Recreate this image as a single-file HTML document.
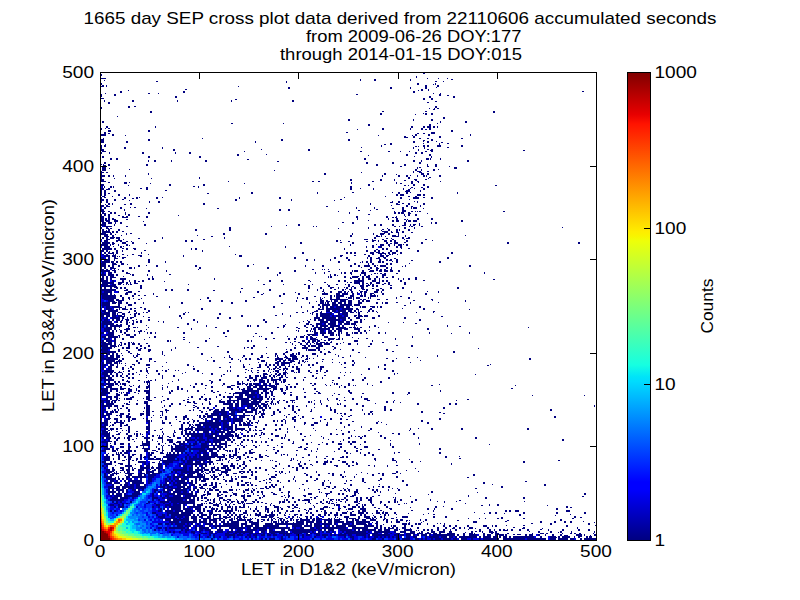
<!DOCTYPE html>
<html><head><meta charset="utf-8"><style>
html,body{margin:0;padding:0;background:#fff;}
body{width:800px;height:600px;position:relative;overflow:hidden;}
svg text{font-family:"Liberation Sans",sans-serif;fill:#000;}
</style></head><body>
<svg width="800" height="600" style="position:absolute;left:0;top:0">
<defs>
<linearGradient id="jet" x1="0" y1="1" x2="0" y2="0">
<stop offset="0" stop-color="#000080"/>
<stop offset="0.11" stop-color="#0000ff"/>
<stop offset="0.125" stop-color="#0000ff"/>
<stop offset="0.34" stop-color="#00dcfe"/>
<stop offset="0.35" stop-color="#00e4f8"/>
<stop offset="0.375" stop-color="#16ffe1"/>
<stop offset="0.64" stop-color="#eeff09"/>
<stop offset="0.65" stop-color="#f8f500"/>
<stop offset="0.66" stop-color="#feed00"/>
<stop offset="0.89" stop-color="#ff1300"/>
<stop offset="0.91" stop-color="#e80000"/>
<stop offset="1" stop-color="#800000"/>
</linearGradient>
</defs>
<g fill="none" stroke-width="1"><path stroke="#000080" d="M423 72.5h2M423 73.5h2M100 74.5h2M100 75.5h2M416 76.5h1M416 77.5h1M100 78.5h6m321 0h1m10 0h1m8 0h1M360 79.5h1m13 0h2m34 0h1m40 0h2M104 80.5h1m255 0h1m13 0h2m34 0h1M156 81.5h2m128 0h1m148 0h2m6 0h1M286 82.5h1M100 83.5h2m315 0h2m16 0h1M100 84.5h2m315 0h2m14 0h1m1 0h1M102 85.5h2m2 0h1m318 0h2m10 0h2M100 86.5h4m2 0h1m131 0h1m186 0h2m10 0h2M288 87.5h2m100 0h2m18 0h1m14 0h2m9 0h1M288 88.5h2m100 0h2m18 0h1m14 0h2M185 89.5h2m234 0h2m5 0h1M128 90.5h1m289 0h1m2 0h2m5 0h1M120 91.5h2m61 0h2m228 0h2m167 0h2M120 92.5h2m61 0h2m228 0h2M105 93.5h1m42 0h2m8 0h1m274 0h1m6 0h1M100 94.5h2m12 0h2m240 0h2m81 0h2M100 95.5h2m12 0h2m323 0h2m6 0h2M100 96.5h2m73 0h2m252 0h2m22 0h2M175 97.5h2m252 0h2m22 0h2M100 98.5h4m319 0h2m6 0h2M235 99.5h2m186 0h2m6 0h2M104 100.5h1m27 0h2m43 0h1m53 0h1m60 0h2M104 101.5h1m27 0h2m43 0h1m53 0h1m60 0h2m141 0h2M108 102.5h2m317 0h2M108 103.5h2M128 106.5h2m4 0h2m299 0h2M101 107.5h1m26 0h2m305 0h2M100 108.5h2m327 0h1m4 0h1m2 0h2M433 109.5h2M150 111.5h2m230 0h2m41 0h2m66 0h2M150 112.5h2m341 0h2M380 113.5h2m41 0h1m1 0h2m4 0h2M380 114.5h2m33 0h1m9 0h2m4 0h2M117 116.5h1M443 117.5h2M443 118.5h2M348 119.5h2m63 0h1m17 0h2M348 120.5h2m63 0h1m17 0h2M102 121.5h2m336 0h1m24 0h2M102 122.5h2m336 0h1m24 0h2M231 123.5h2m50 0h1m153 0h1M368 124.5h2m59 0h2M368 125.5h2m59 0h2M106 126.5h2m47 0h1m255 0h2m10 0h2m2 0h4m2 0h2m2 0h1M106 127.5h2m47 0h1m255 0h2m10 0h2m2 0h4m2 0h2m2 0h1M100 128.5h2m3 0h1m2 0h2m272 0h2m26 0h1m10 0h2m6 0h2M100 129.5h2m255 0h1m24 0h2m26 0h1m10 0h2m2 0h2m2 0h2M108 130.5h3m37 0h2m301 0h2M108 131.5h3m37 0h2m301 0h2M104 132.5h2m240 0h2m83 0h4M104 133.5h2m2 0h2m307 0h2m4 0h2m6 0h4M100 134.5h6m6 0h2m301 0h2m11 0h2m40 0h1M100 135.5h6m6 0h2m11 0h1m252 0h1m33 0h1m2 0h2m11 0h2m40 0h1M404 136.5h2m7 0h2m24 0h2M404 137.5h4m5 0h2m24 0h2M103 138.5h1m98 0h1m216 0h2m6 0h2m32 0h2M100 139.5h4m44 0h2m131 0h2m65 0h2m81 0h2M100 140.5h4m44 0h2m131 0h2m65 0h2m73 0h2m6 0h2M100 141.5h4m22 0h2m127 0h1m157 0h2m8 0h1m3 0h2m7 0h1M100 142.5h4m22 0h2m127 0h1m157 0h2m12 0h2m12 0h2M390 143.5h2m31 0h1m15 0h1m7 0h2M105 144.5h1m278 0h2m4 0h2m47 0h1M100 145.5h2m2 0h2m275 0h1m41 0h2m2 0h2m8 0h4m20 0h2M100 146.5h2m2 0h2m275 0h1m33 0h2m1 0h1m4 0h2m2 0h2m8 0h4m20 0h2M100 147.5h2m22 0h2m36 0h1m198 0h1m51 0h1m10 0h1m22 0h2M100 148.5h2m22 0h2m36 0h1m250 0h1m10 0h1M100 149.5h4m69 0h2m86 0h1m46 0h2m108 0h1m8 0h2m2 0h2M100 150.5h4m69 0h2m133 0h2m108 0h1m11 0h3m90 0h2M102 151.5h4m138 0h1m115 0h2m26 0h2m10 0h1m8 0h1m15 0h2m4 0h2M100 152.5h2m7 0h1m32 0h2m31 0h1m13 0h2m224 0h2m4 0h2M100 153.5h2m7 0h1m32 0h2m31 0h1m13 0h2m224 0h2m4 0h2M100 154.5h1m136 0h2m27 0h1m139 0h2m21 0h2M100 155.5h1m136 0h2m129 0h1m37 0h2m21 0h2M102 156.5h2m44 0h2m49 0h2m213 0h1m16 0h1M102 157.5h2m44 0h2m49 0h2m230 0h1M110 158.5h2m4 0h2m246 0h2m60 0h3m1 0h1m9 0h1M110 159.5h2m4 0h2m129 0h2m115 0h2m60 0h3m1 0h1m9 0h1M148 160.5h1m5 0h2m15 0h1m33 0h2m206 0h2m6 0h1m45 0h2M148 161.5h1m5 0h2m15 0h1m33 0h2m70 0h2m134 0h2m6 0h1m45 0h2M104 162.5h2m260 0h2m24 0h2m25 0h2M104 163.5h2m260 0h2m24 0h2m25 0h2M101 164.5h1m1 0h1m4 0h2m36 0h2m228 0h2m26 0h2m21 0h1m7 0h2M103 165.5h3m2 0h2m36 0h2m228 0h2m26 0h2m21 0h1m7 0h2M104 166.5h2m294 0h2m25 0h2m6 0h2m12 0h1M102 167.5h4m311 0h1m1 0h2m33 0h3M102 168.5h4m3 0h1m307 0h1m36 0h3M100 169.5h1m1 0h4m23 0h1m285 0h2m4 0h1m11 0h2m3 0h1M102 170.5h4m168 0h1m140 0h2m4 0h1m11 0h2M100 171.5h2m311 0h1m3 0h4m6 0h2M100 172.5h4m2 0h2m253 0h1m51 0h1m5 0h3M100 173.5h2m46 0h1m175 0h2m58 0h2m35 0h3m3 0h2M100 174.5h2m46 0h1m175 0h2m58 0h2m10 0h1m24 0h3m3 0h2M100 175.5h5m3 0h2m3 0h1m11 0h1m256 0h1m15 0h2m6 0h2m2 0h1m6 0h1m5 0h2m1 0h1m12 0h2M100 176.5h5m3 0h2m3 0h1m11 0h1m256 0h1m15 0h2m6 0h2m9 0h1m5 0h2m1 0h1m12 0h2M100 177.5h2m97 0h1m208 0h2m19 0h2M100 178.5h2m12 0h1m36 0h1m47 0h1m208 0h2m18 0h1M100 179.5h4m246 0h2m28 0h2m12 0h1m19 0h3m8 0h2M100 180.5h4m246 0h2m28 0h2m12 0h1m9 0h2m9 0h2M100 181.5h6m122 0h1m83 0h2m4 0h2m52 0h2m37 0h2m4 0h2m21 0h1M108 182.5h2m14 0h3m2 0h1m221 0h1m44 0h1m14 0h2m5 0h1M124 183.5h3m23 0h1m93 0h1m106 0h1m44 0h1m3 0h2m9 0h2M100 184.5h4m65 0h2m32 0h2m163 0h2m43 0h2m8 0h2M100 185.5h4m24 0h1m40 0h2m32 0h2m163 0h2m34 0h2m2 0h1m4 0h2m8 0h2m70 0h2M102 186.5h1m1 0h1m5 0h2m1 0h1m79 0h2m3 0h1m151 0h2m75 0h2M102 187.5h1m1 0h1m5 0h2m1 0h1m32 0h2m50 0h1m151 0h2m59 0h2m8 0h2m4 0h2M100 188.5h4m4 0h2m30 0h2m4 0h2m202 0h2m8 0h1m12 0h1m29 0h1m6 0h1m3 0h1m8 0h2M100 189.5h4m2 0h4m36 0h2m202 0h2m21 0h1m29 0h1m4 0h2m13 0h2M100 190.5h2m2 0h2m8 0h2m49 0h2m239 0h4m10 0h1M100 191.5h2m2 0h2m8 0h2m289 0h5m10 0h1M100 192.5h2m2 0h2m145 0h2m64 0h1m34 0h2m38 0h1m5 0h2m6 0h2m2 0h1m46 0h1M100 193.5h2m2 0h2m2 0h2m97 0h2m42 0h2m64 0h1m80 0h2m6 0h2m49 0h1M100 194.5h2m2 0h2m12 0h2m9 0h1m266 0h2m2 0h4m13 0h4m2 0h2M100 195.5h2m2 0h2m12 0h2m9 0h1m266 0h2m2 0h4m13 0h4m2 0h2M102 196.5h3m7 0h1m272 0h1m22 0h2m5 0h2M100 197.5h2m2 0h2m18 0h2m10 0h2m1 0h1m16 0h2m4 0h1m76 0h1m39 0h2m63 0h1m55 0h2m11 0h6m4 0h2m6 0h2M100 198.5h2m22 0h2m6 0h2m2 0h2m18 0h2m81 0h1m39 0h2m119 0h2m11 0h6m12 0h2M100 199.5h4m2 0h2m6 0h2m6 0h2m111 0h2m54 0h1m48 0h2m67 0h1M100 200.5h4m2 0h2m6 0h2m13 0h1m105 0h2m54 0h1m42 0h1M100 201.5h2m4 0h2m41 0h1m8 0h2m232 0h1m5 0h2m14 0h1m2 0h1M100 202.5h2m4 0h2m41 0h1m8 0h2m230 0h3m5 0h2m17 0h1M108 203.5h2m2 0h1m17 0h2m71 0h2m165 0h1m25 0h2m4 0h2m4 0h2m13 0h2M105 204.5h1m2 0h2m2 0h1m11 0h2m4 0h2m71 0h2m165 0h1m25 0h4m8 0h2m13 0h2M100 205.5h4m2 0h2m283 0h1m14 0h2m12 0h1M100 206.5h4m2 0h4m216 0h2m78 0h2m3 0h2m7 0h1M104 207.5h2m14 0h2m8 0h1m3 0h2m220 0h1m17 0h1m27 0h2m7 0h1m1 0h4M104 208.5h2m14 0h2m24 0h1m70 0h2m137 0h1m17 0h1m17 0h2m8 0h2m7 0h1m1 0h4m6 0h1M100 209.5h4m20 0h1m154 0h2m7 0h2m86 0h2m24 0h2M100 210.5h4m20 0h1m154 0h2m7 0h2m68 0h2m10 0h1m31 0h4M100 211.5h5m3 0h2m228 0h1m55 0h1m7 0h4m5 0h2m2 0h1m1 0h1m1 0h2m82 0h2M102 212.5h2m6 0h2m2 0h2m9 0h1m22 0h2m199 0h1m44 0h2m2 0h2m1 0h3m4 0h2M102 213.5h4m4 0h2m2 0h2m9 0h1m22 0h2m199 0h1m44 0h2m2 0h2m1 0h3m4 0h3m16 0h1M100 214.5h2m2 0h2m2 0h2m15 0h1m2 0h2m238 0h2m34 0h1m3 0h2m5 0h2M100 215.5h2m2 0h2m2 0h2m8 0h2m8 0h2m48 0h1m225 0h1m3 0h2m5 0h2M100 216.5h4m4 0h2m12 0h2m2 0h2m10 0h2m6 0h2m208 0h2m28 0h2m8 0h1m8 0h1M100 217.5h4m4 0h2m12 0h6m18 0h2m208 0h2m28 0h2m4 0h2m1 0h2M100 218.5h4m1 0h2m1 0h2m2 0h2m243 0h1m30 0h1m7 0h2m19 0h2m12 0h2M100 219.5h4m1 0h2m1 0h2m2 0h4m10 0h2m229 0h1m30 0h1m7 0h2m6 0h2m1 0h1m9 0h2m12 0h2M100 220.5h4m1 0h5m4 0h4m250 0h1m23 0h2m2 0h3m7 0h1m1 0h3m2 0h4m44 0h2M100 221.5h4m2 0h4m4 0h4m25 0h1m248 0h2m2 0h3m7 0h1m1 0h3m2 0h4m44 0h2M102 222.5h4m2 0h4m3 0h1m4 0h2m220 0h2m8 0h2m50 0h2m25 0h1m3 0h2M102 223.5h4m2 0h4m3 0h1m4 0h2m230 0h2m50 0h2m13 0h1m11 0h1m3 0h2M100 224.5h6m8 0h1m29 0h2m152 0h2m74 0h2m4 0h2m10 0h2m10 0h2m4 0h1m2 0h3m3 0h1M100 225.5h6m8 0h1m29 0h2m140 0h1m11 0h2m74 0h2m4 0h2m10 0h2m8 0h4m4 0h1m2 0h2m4 0h1M104 226.5h8m14 0h2m143 0h1m41 0h1m2 0h1m77 0h2m3 0h1m9 0h1m1 0h2m8 0h2M100 227.5h2m4 0h2m121 0h2m137 0h1m35 0h2m8 0h1m147 0h1M100 228.5h2m4 0h3m1 0h2m117 0h2m107 0h1m29 0h1m18 0h1m16 0h2m8 0h1M102 229.5h2m4 0h2m8 0h2m75 0h2m32 0h2m151 0h2m4 0h2m6 0h2m1 0h1m8 0h2M102 230.5h2m2 0h1m1 0h2m8 0h2m75 0h2m32 0h2m150 0h1m6 0h2m6 0h2m1 0h1m8 0h2M102 231.5h8m2 0h2m2 0h2m4 0h2m258 0h6m3 0h1m4 0h2m4 0h2M102 232.5h9m1 0h2m2 0h2m266 0h4m3 0h2m3 0h3m3 0h2m7 0h2M100 233.5h6m4 0h2m14 0h1m3 0h2m91 0h2m40 0h2m85 0h1m20 0h1m6 0h5m3 0h2m8 0h1M100 234.5h8m2 0h2m3 0h1m10 0h1m96 0h2m40 0h2m85 0h1m20 0h1m6 0h4m4 0h2m8 0h1M104 235.5h4m4 0h2m7 0h1m75 0h1m152 0h2m24 0h2m3 0h1m10 0h4m2 0h1m6 0h1m59 0h1M104 236.5h5m3 0h2m97 0h2m137 0h2m24 0h4m1 0h1m3 0h1m6 0h7m6 0h1M102 237.5h2m2 0h2m2 0h5m1 0h4m42 0h1m61 0h1m149 0h2m26 0h2m4 0h2M102 238.5h2m2 0h2m2 0h4m2 0h4m18 0h2m22 0h1m61 0h1m149 0h2m10 0h2m3 0h1m10 0h2m2 0h4M100 239.5h2m4 0h4m8 0h2m3 0h1m79 0h2m159 0h4m4 0h1m9 0h2m8 0h2m10 0h1m20 0h2M104 240.5h4m8 0h6m32 0h2m29 0h2m4 0h2m143 0h2m2 0h1m31 0h4m2 0h1m5 0h3m3 0h2m2 0h2m10 0h2m24 0h1M104 241.5h4m8 0h2m2 0h2m4 0h2m3 0h1m22 0h2m29 0h2m4 0h2m143 0h2m10 0h2m16 0h2m4 0h2m4 0h1m5 0h3m3 0h2m2 0h2m10 0h2M102 242.5h8m2 0h2m8 0h4m6 0h2m166 0h2m38 0h2m10 0h2m32 0h2m6 0h4m6 0h2m15 0h2m84 0h2m69 0h2M102 243.5h8m2 0h3m7 0h4m6 0h2m12 0h1m153 0h2m50 0h2m32 0h2m2 0h2m2 0h4m23 0h2m84 0h2m69 0h2M100 244.5h8m2 0h1m1 0h2m4 0h1m7 0h2m222 0h1m25 0h1m3 0h4m4 0h2m4 0h1m3 0h4m1 0h1m2 0h2M100 245.5h8m2 0h1m7 0h1m7 0h2m1 0h1m220 0h1m21 0h2m6 0h4m4 0h2m4 0h1m3 0h4m4 0h2M104 246.5h6m3 0h1m6 0h2m1 0h1m105 0h1m55 0h1m80 0h1m5 0h2m6 0h2m7 0h1m6 0h2m2 0h2M104 247.5h6m10 0h2m163 0h1m80 0h1m5 0h2m6 0h2m14 0h2m2 0h2M102 248.5h10m2 0h2m6 0h2m2 0h2m5 0h3m55 0h1m3 0h2m147 0h1m37 0h2m2 0h2m13 0h1m6 0h2M102 249.5h10m2 0h2m10 0h2m6 0h2m55 0h1m3 0h2m147 0h1m31 0h2m4 0h2m2 0h2M100 250.5h4m2 0h2m8 0h2m4 0h1m21 0h2m56 0h1m163 0h2m6 0h2m2 0h2m10 0h2m4 0h2m19 0h2M100 251.5h4m2 0h2m1 0h1m6 0h2m4 0h1m79 0h1m163 0h2m6 0h2m2 0h2m10 0h2m4 0h2m19 0h2M104 252.5h2m2 0h2m2 0h2m2 0h2m23 0h1m160 0h2m42 0h2m2 0h2m2 0h2m14 0h4m2 0h4m2 0h2m4 0h2m2 0h4m4 0h2m49 0h2M104 253.5h2m2 0h6m2 0h2m23 0h1m160 0h2m42 0h2m2 0h2m2 0h2m14 0h4m4 0h8m2 0h2m2 0h4m4 0h2m49 0h2M102 254.5h2m2 0h2m5 0h1m1 0h1m6 0h2m8 0h2m14 0h1m86 0h1m128 0h2m6 0h2m6 0h2m3 0h1m3 0h2m1 0h1m4 0h1M104 255.5h6m2 0h4m11 0h1m10 0h4m41 0h1m55 0h3m98 0h3m11 0h2m12 0h2m10 0h4m2 0h3M104 256.5h6m2 0h4m1 0h1m1 0h1m20 0h2m41 0h1m55 0h3m98 0h2m26 0h2m10 0h4m2 0h2M100 257.5h4m4 0h2m4 0h2m6 0h4m168 0h2m38 0h2m10 0h2m19 0h1m2 0h2m6 0h2m3 0h3m61 0h2M100 258.5h4m4 0h2m4 0h4m4 0h2m170 0h2m38 0h2m10 0h2m19 0h1m2 0h2m4 0h4m4 0h2m8 0h2m51 0h2M104 259.5h6m4 0h1m33 0h2m156 0h2m6 0h1m15 0h1m17 0h2m20 0h2m7 0h2m5 0h2m2 0h2m4 0h2M104 260.5h6m4 0h1m33 0h2m156 0h2m6 0h1m15 0h1m17 0h2m20 0h2m7 0h2m5 0h2m1 0h3m4 0h2m13 0h2M102 261.5h8m1 0h3m2 0h2m2 0h2m26 0h2m15 0h1m172 0h2m22 0h1m3 0h2m2 0h2m6 0h3m1 0h2m8 0h1m3 0h2m41 0h2M102 262.5h8m1 0h3m2 0h2m2 0h2m26 0h2m15 0h1m172 0h2m20 0h1m1 0h1m3 0h2m2 0h2m6 0h3m1 0h2m12 0h2m41 0h2M100 263.5h6m6 0h4m5 0h3m230 0h2m12 0h1m3 0h2m12 0h2m2 0h2m17 0h1M100 264.5h6m6 0h5m4 0h3m3 0h1m125 0h1m100 0h2m12 0h1m3 0h2m12 0h2m2 0h2M100 265.5h6m2 0h2m2 0h2m4 0h2m18 0h2m6 0h1m9 0h2m37 0h2m50 0h2m56 0h1m16 0h2m26 0h2m6 0h2m4 0h6m4 0h2m1 0h1m2 0h6m19 0h1m63 0h2M100 266.5h6m2 0h2m2 0h2m4 0h2m18 0h2m16 0h2m37 0h2m50 0h2m56 0h1m16 0h2m26 0h2m6 0h2m4 0h6m4 0h2m4 0h6m16 0h1m2 0h1m63 0h2M100 267.5h2m2 0h2m4 0h4m15 0h3m2 0h1m64 0h2m66 0h2m92 0h1m8 0h2m4 0h2m8 0h2m3 0h1M100 268.5h2m2 0h2m4 0h6m13 0h3m2 0h1m64 0h2m66 0h2m101 0h2m4 0h3m7 0h2m3 0h1M100 269.5h4m2 0h2m6 0h1m3 0h1m79 0h1m113 0h2m8 0h1m1 0h1m3 0h1m10 0h1m28 0h2m6 0h2m2 0h2m2 0h2m4 0h2M100 270.5h10m2 0h4m6 0h2m24 0h2m16 0h1m127 0h2m56 0h1m1 0h4m4 0h2m6 0h4m2 0h2m1 0h3m2 0h4m2 0h3m5 0h2M100 271.5h10m4 0h2m6 0h2m24 0h2m16 0h1m127 0h2m32 0h2m22 0h1m1 0h4m4 0h2m5 0h5m5 0h3m2 0h4m2 0h3m5 0h2M102 272.5h2m4 0h4m2 0h2m10 0h2m151 0h2m34 0h1m8 0h1m16 0h1m2 0h2m4 0h2m9 0h5m118 0h1M102 273.5h2m4 0h4m14 0h4m149 0h2m34 0h1m8 0h1m16 0h1m2 0h2m4 0h2m9 0h5m8 0h2m1 0h1m2 0h2m2 0h2m10 0h2m86 0h1M100 274.5h6m2 0h6m2 0h2m12 0h1m1 0h2m13 0h1m21 0h2m106 0h1m52 0h1m3 0h2m15 0h1m8 0h1m3 0h2m5 0h1m10 0h4M100 275.5h6m2 0h6m2 0h2m14 0h2m13 0h1m129 0h1m52 0h1m3 0h2m1 0h1m22 0h1m3 0h2m2 0h2m12 0h4M102 276.5h2m2 0h2m2 0h4m9 0h1m28 0h1m175 0h1m1 0h2m12 0h2m6 0h7m3 0h2m2 0h4m6 0h2m4 0h2m8 0h2M102 277.5h2m2 0h2m2 0h6m36 0h1m175 0h1m1 0h2m12 0h2m4 0h1m1 0h6m4 0h2m2 0h4m6 0h2m4 0h2m2 0h2m4 0h2m21 0h2M100 278.5h4m2 0h2m2 0h2m8 0h6m22 0h2m2 0h2m60 0h1m135 0h2m6 0h2m2 0h2m4 0h3m3 0h2m3 0h1m18 0h1m4 0h1m4 0h2m5 0h2M100 279.5h4m2 0h2m2 0h2m8 0h6m22 0h2m2 0h2m60 0h1m143 0h2m2 0h2m4 0h3m3 0h2m3 0h1m18 0h1m4 0h1m4 0h2m5 0h2m76 0h2M100 280.5h8m4 0h2m8 0h2m5 0h1m4 0h2m6 0h2m114 0h1m10 0h2m10 0h2m25 0h2m28 0h2m4 0h2m8 0h10m8 0h4m3 0h1m2 0h2m2 0h2m12 0h2m21 0h2M100 281.5h8m4 0h2m8 0h2m5 0h1m4 0h2m2 0h2m2 0h2m20 0h1m104 0h2m10 0h2m27 0h1m27 0h2m4 0h2m8 0h10m8 0h4m3 0h1m2 0h2m2 0h2m12 0h2M102 282.5h12m4 0h6m2 0h2m2 0h1m3 0h2m188 0h2m21 0h1m2 0h2m2 0h6m2 0h2m6 0h2m4 0h4m8 0h2m14 0h2M102 283.5h12m4 0h4m4 0h2m2 0h1m3 0h4m216 0h6m2 0h2m2 0h2m2 0h2m4 0h4m4 0h2m2 0h2m14 0h2M100 284.5h8m4 0h4m2 0h3m2 0h1m2 0h1m1 0h1m1 0h2m56 0h1m74 0h2m18 0h1m20 0h2m6 0h1m14 0h1m8 0h2m7 0h1m2 0h2m9 0h1m2 0h2m4 0h1m1 0h1m1 0h2m8 0h2m4 0h2m14 0h2M102 285.5h14m24 0h2m166 0h2m18 0h2m18 0h2m10 0h4m2 0h4m2 0h2m2 0h2m12 0h2M102 286.5h15m23 0h2m166 0h2m18 0h2m18 0h2m2 0h2m6 0h4m2 0h2m4 0h2m2 0h2M100 287.5h2m2 0h2m4 0h2m2 0h4m2 0h2m2 0h2m14 0h2m166 0h2m10 0h2m8 0h4m4 0h1m5 0h1m1 0h2m3 0h1m2 0h2m5 0h3m26 0h2m10 0h2m53 0h2M100 288.5h2m2 0h2m4 0h2m4 0h2m2 0h2m2 0h2m14 0h2m99 0h2m65 0h2m10 0h2m8 0h2m6 0h1m7 0h2m3 0h1m2 0h2m5 0h3m8 0h2m6 0h2m8 0h2m10 0h2m53 0h2M100 289.5h16m10 0h2m37 0h2m4 0h2m14 0h2m80 0h2m46 0h1m5 0h1m10 0h2m6 0h2m1 0h1m3 0h3m10 0h3m1 0h2m8 0h3m3 0h2M100 290.5h16m8 0h4m37 0h2m4 0h2m14 0h2m24 0h2m54 0h2m46 0h1m5 0h1m18 0h2m6 0h2m7 0h1m6 0h2m8 0h3m3 0h2M100 291.5h2m2 0h8m6 0h1m9 0h4m6 0h2m100 0h1m16 0h2m49 0h1m13 0h2m6 0h2m6 0h4m2 0h2m2 0h1m2 0h2m7 0h3m1 0h3m7 0h4m3 0h1m29 0h1m15 0h1m10 0h1M100 292.5h2m2 0h8m6 0h1m7 0h6m108 0h1m16 0h2m36 0h1m28 0h1m5 0h2m6 0h4m2 0h2m1 0h1m3 0h2m4 0h1m2 0h2m2 0h3m7 0h4m3 0h1m29 0h1m26 0h1M100 293.5h8m2 0h2m13 0h3m6 0h2m17 0h1m109 0h1m19 0h2m13 0h2m22 0h6m8 0h4m2 0h6m4 0h2m3 0h1m3 0h1m2 0h2m4 0h4m8 0h2m41 0h2M100 294.5h8m2 0h2m2 0h1m10 0h3m6 0h2m17 0h1m107 0h2m20 0h2m13 0h2m22 0h6m8 0h4m2 0h6m4 0h2m3 0h1m3 0h1m2 0h2m4 0h2m2 0h1m7 0h2m41 0h2M102 295.5h14m4 0h2m10 0h2m4 0h2m4 0h2m133 0h2m49 0h2m2 0h1m1 0h8m6 0h4m6 0h3m1 0h2m4 0h6m1 0h1M102 296.5h14m4 0h2m10 0h2m22 0h2m121 0h2m33 0h2m14 0h2m2 0h1m1 0h8m6 0h4m6 0h3m1 0h2m4 0h6m1 0h1m22 0h2M102 297.5h14m6 0h2m4 0h2m77 0h2m44 0h2m42 0h1m8 0h2m12 0h1m3 0h1m5 0h2m4 0h4m6 0h1m1 0h4m1 0h1m2 0h4m8 0h1m1 0h1m25 0h1m11 0h2M102 298.5h14m6 0h2m4 0h2m3 0h1m7 0h1m65 0h2m88 0h1m4 0h2m2 0h2m12 0h1m1 0h1m7 0h2m4 0h4m8 0h4m1 0h1m2 0h4m8 0h1m1 0h1m25 0h1m11 0h2M104 299.5h10m2 0h3m3 0h2m5 0h1m8 0h2m60 0h1m105 0h2m12 0h2m8 0h18m5 0h1m6 0h2m1 0h3m11 0h3m6 0h2m43 0h2M108 300.5h6m2 0h8m85 0h2m10 0h2m22 0h2m49 0h1m23 0h4m2 0h2m3 0h1m2 0h4m2 0h6m2 0h4m6 0h2m2 0h2m2 0h4m43 0h2m17 0h1m32 0h1M108 301.5h7m3 0h4m87 0h2m10 0h2m22 0h2m49 0h1m19 0h1m3 0h4m2 0h4m1 0h1m2 0h4m2 0h6m2 0h4m6 0h2m2 0h2m2 0h4m95 0h1M102 302.5h8m2 0h5m1 0h4m4 0h2m6 0h2m7 0h1m37 0h2m48 0h2m76 0h1m10 0h4m1 0h1m1 0h2m3 0h4m2 0h4m2 0h2m2 0h4m6 0h4m14 0h2m4 0h1m2 0h3m8 0h2m12 0h1m27 0h1M102 303.5h8m2 0h4m2 0h4m4 0h2m6 0h2m7 0h1m37 0h2m48 0h2m48 0h2m26 0h1m10 0h4m1 0h1m1 0h2m3 0h4m2 0h4m2 0h2m2 0h4m6 0h4m14 0h2m4 0h1m2 0h3m22 0h1M102 304.5h8m8 0h2m8 0h4m186 0h2m2 0h8m2 0h6m2 0h12m2 0h6M102 305.5h8m8 0h2m8 0h4m186 0h2m2 0h8m2 0h6m2 0h12m2 0h6m44 0h2M102 306.5h2m2 0h4m2 0h8m5 0h1m43 0h1m103 0h2m26 0h1m10 0h2m6 0h1m1 0h2m2 0h2m2 0h4m2 0h8m2 0h4m2 0h1m7 0h1m1 0h4m4 0h5m2 0h1m2 0h2m37 0h2M102 307.5h2m2 0h4m2 0h10m3 0h1m14 0h2m27 0h1m103 0h2m26 0h1m10 0h2m6 0h1m1 0h2m2 0h2m2 0h4m2 0h8m2 0h4m10 0h1m1 0h4m6 0h3m2 0h1m2 0h2m37 0h2M106 308.5h6m7 0h1m2 0h4m4 0h2m2 0h2m8 0h2m55 0h2m115 0h2m2 0h2m2 0h14m2 0h11m3 0h2m12 0h2m30 0h1m20 0h2M106 309.5h6m4 0h2m1 0h1m2 0h6m2 0h2m12 0h2m55 0h2m115 0h6m2 0h14m2 0h11m3 0h3m10 0h3m51 0h2m44 0h1M102 310.5h4m2 0h10m16 0h2m12 0h2m157 0h1m8 0h2m8 0h4m2 0h4m2 0h8m2 0h4m2 0h2m2 0h1m9 0h2m2 0h2M102 311.5h4m2 0h10m11 0h1m4 0h2m12 0h2m157 0h1m6 0h4m3 0h1m4 0h4m2 0h4m2 0h8m2 0h4m2 0h2m2 0h1m1 0h2m6 0h2m2 0h2m2 0h1m56 0h2M100 312.5h2m2 0h6m2 0h4m2 0h4m6 0h2m6 0h1m6 0h1m2 0h2m37 0h1m2 0h1m107 0h2m4 0h2m8 0h2m6 0h2m8 0h2m4 0h4m2 0h6m2 0h4m2 0h1m1 0h2m7 0h1m9 0h1m38 0h1m16 0h1M100 313.5h10m2 0h4m1 0h1m4 0h3m9 0h3m1 0h2m43 0h2m34 0h2m61 0h1m27 0h1m1 0h1m3 0h2m2 0h12m6 0h2m2 0h6m10 0h2M100 314.5h10m2 0h4m1 0h1m4 0h3m5 0h1m3 0h2m2 0h2m43 0h2m34 0h2m61 0h1m29 0h1m3 0h2m2 0h12m6 0h2m2 0h6m10 0h2M100 315.5h4m2 0h4m2 0h4m2 0h4m2 0h1m9 0h2m43 0h2m60 0h2m32 0h2m13 0h1m25 0h2m2 0h10m2 0h2m2 0h6m2 0h4m6 0h3m1 0h4m2 0h4m10 0h2M100 316.5h4m2 0h4m2 0h4m2 0h7m9 0h2m7 0h1m35 0h2m60 0h2m47 0h1m25 0h2m2 0h10m2 0h2m2 0h6m2 0h4m6 0h2m2 0h5m1 0h4m10 0h2m61 0h2M102 317.5h2m2 0h2m4 0h8m2 0h2m3 0h1m2 0h4m14 0h2m31 0h1m35 0h2m10 0h2m83 0h6m2 0h14m2 0h8m2 0h2m6 0h4m12 0h3m29 0h2M102 318.5h2m2 0h2m4 0h8m2 0h2m3 0h1m2 0h2m49 0h1m35 0h2m10 0h2m83 0h6m2 0h14m2 0h8m2 0h2m6 0h4m12 0h3m29 0h2M100 319.5h2m2 0h4m4 0h2m2 0h4m2 0h1m2 0h4m7 0h1m11 0h2m43 0h2m68 0h2m45 0h1m3 0h2m2 0h6m2 0h14m2 0h4m4 0h2m8 0h2m2 0h1m54 0h2M100 320.5h2m2 0h4m4 0h2m2 0h4m1 0h2m3 0h3m3 0h2m6 0h2m6 0h2m43 0h2m68 0h2m42 0h1m6 0h2m2 0h6m2 0h14m2 0h4m4 0h2m8 0h2m57 0h2M102 321.5h10m4 0h2m2 0h2m4 0h2m5 0h1m2 0h2m2 0h2m16 0h1m4 0h1m33 0h1m67 0h2m36 0h1m4 0h2m10 0h8m2 0h6m2 0h6m2 0h4m4 0h4m2 0h2M102 322.5h10m4 0h2m2 0h2m4 0h2m1 0h1m3 0h1m2 0h2m2 0h2m21 0h1m33 0h1m67 0h2m32 0h1m8 0h2m10 0h8m2 0h6m2 0h6m2 0h4m4 0h4m2 0h2m26 0h1m14 0h1M102 323.5h12m12 0h2m4 0h2m53 0h2m117 0h3m7 0h6m2 0h2m2 0h8m4 0h2m2 0h6m1 0h5m59 0h2M102 324.5h12m2 0h2m2 0h2m4 0h2m4 0h2m53 0h2m96 0h1m20 0h3m1 0h2m4 0h6m2 0h2m2 0h8m4 0h2m2 0h6m1 0h5M102 325.5h2m2 0h2m2 0h12m6 0h2m16 0h1m59 0h1m40 0h2m1 0h1m6 0h2m24 0h2m19 0h2m6 0h2m2 0h2m2 0h8m2 0h10m2 0h2m10 0h1m1 0h1m17 0h2m71 0h1M102 326.5h2m2 0h2m2 0h12m6 0h2m76 0h1m40 0h2m1 0h1m6 0h2m24 0h2m19 0h2m6 0h2m2 0h2m2 0h8m2 0h10m2 0h2m10 0h1m14 0h1m4 0h2m71 0h1m11 0h2M102 327.5h2m2 0h6m2 0h2m3 0h1m8 0h1m4 0h3m1 0h1m10 0h1m28 0h2m36 0h2m60 0h2m4 0h1m12 0h2m8 0h2m6 0h8m2 0h2m2 0h6m4 0h8m3 0h3m1 0h3m1 0h1m2 0h2m7 0h1m8 0h1m149 0h1M104 328.5h8m2 0h2m10 0h4m61 0h1m106 0h2m11 0h1m1 0h3m2 0h12m2 0h2m2 0h12m6 0h6m67 0h2M104 329.5h8m2 0h2m3 0h1m4 0h6m16 0h1m44 0h1m119 0h1m1 0h3m2 0h12m2 0h2m2 0h6m2 0h4m6 0h6m67 0h2M104 330.5h6m2 0h2m2 0h1m3 0h2m4 0h2m6 0h1m5 0h2m85 0h2m67 0h1m1 0h1m7 0h2m2 0h1m3 0h2m4 0h4m4 0h4m2 0h2m2 0h4m16 0h2m4 0h2m3 0h1M104 331.5h6m2 0h2m2 0h1m3 0h2m4 0h2m6 0h1m3 0h4m2 0h1m82 0h2m69 0h1m7 0h2m2 0h1m1 0h1m1 0h2m4 0h4m4 0h4m2 0h2m2 0h4m16 0h2m4 0h2M100 332.5h4m4 0h6m6 0h2m2 0h2m13 0h1m7 0h1m2 0h2m3 0h1m27 0h2m38 0h2m46 0h2m41 0h4m2 0h6m2 0h6m4 0h2m1 0h1m4 0h2m4 0h1m1 0h4m2 0h2m4 0h1m11 0h2m5 0h1m43 0h1m39 0h1M100 333.5h4m4 0h6m10 0h2m13 0h1m7 0h1m2 0h2m3 0h1m27 0h2m38 0h2m30 0h2m14 0h2m41 0h4m2 0h6m2 0h6m4 0h2m1 0h1m4 0h2m4 0h1m1 0h4m2 0h2m4 0h1m11 0h2m5 0h1m43 0h1m21 0h1m17 0h1M106 334.5h8m8 0h1m3 0h4m4 0h2m171 0h9m6 0h2m6 0h4m2 0h1m1 0h2m6 0h4M106 335.5h8m4 0h2m6 0h4m4 0h2m168 0h1m3 0h2m2 0h4m6 0h2m6 0h4m2 0h1m1 0h2m6 0h4M102 336.5h4m2 0h10m1 0h1m10 0h4m20 0h2m69 0h2m26 0h1m5 0h1m1 0h1m25 0h1m8 0h1m3 0h4m2 0h2m2 0h2m12 0h4m11 0h1m72 0h1M102 337.5h4m2 0h10m1 0h1m10 0h4m15 0h1m4 0h2m27 0h2m111 0h1m3 0h4m2 0h2m2 0h3m3 0h1m7 0h4m11 0h1m12 0h1m59 0h1M104 338.5h6m4 0h2m6 0h2m85 0h1m55 0h2m6 0h2m13 0h2m4 0h2m14 0h6m12 0h7m3 0h2m2 0h1m15 0h1m7 0h2m27 0h1M104 339.5h6m4 0h2m6 0h2m20 0h1m38 0h2m80 0h2m21 0h2m4 0h2m14 0h8m3 0h1m6 0h6m2 0h4m2 0h1m52 0h1M102 340.5h2m2 0h6m2 0h2m51 0h2m1 0h1m34 0h2m40 0h2m2 0h1m50 0h3m3 0h2m2 0h4m1 0h3m4 0h2m2 0h2m24 0h4m14 0h1M102 341.5h2m2 0h6m2 0h2m51 0h2m1 0h1m34 0h2m40 0h2m2 0h1m42 0h2m6 0h3m3 0h2m2 0h4m1 0h3m11 0h1m22 0h4m14 0h1M100 342.5h6m2 0h4m2 0h2m4 0h2m6 0h2m1 0h1m1 0h1m55 0h1m95 0h2m3 0h1m7 0h2m5 0h1m1 0h3m2 0h2m2 0h2m2 0h5m1 0h2m2 0h2m11 0h1m38 0h2M102 343.5h10m2 0h2m5 0h1m2 0h2m2 0h2m2 0h3m3 0h2m6 0h2m144 0h1m7 0h2m4 0h2m2 0h1m3 0h1m1 0h6m2 0h6m6 0h2m2 0h1m7 0h3m6 0h1m12 0h2M102 344.5h10m2 0h2m3 0h1m1 0h1m2 0h2m2 0h2m2 0h3m3 0h2m152 0h1m7 0h2m4 0h2m2 0h1m5 0h6m2 0h6m6 0h2m10 0h3m6 0h1m12 0h2M100 345.5h8m2 0h6m2 0h1m1 0h2m6 0h2m10 0h2m6 0h2m103 0h2m40 0h1m6 0h4m2 0h2m1 0h5m2 0h5m73 0h2m13 0h2M100 346.5h8m2 0h7m1 0h1m9 0h2m10 0h2m6 0h2m67 0h2m34 0h2m49 0h2m2 0h2m1 0h5m2 0h5m9 0h2m34 0h2m41 0h2M102 347.5h10m2 0h1m7 0h2m2 0h4m6 0h2m6 0h2m29 0h1m21 0h2m45 0h1m2 0h2m2 0h2m13 0h1m27 0h2m6 0h6m8 0h4m14 0h2M102 348.5h10m10 0h2m2 0h4m6 0h2m2 0h2m2 0h2m29 0h1m68 0h1m6 0h2m41 0h2m6 0h6m8 0h4m14 0h2m142 0h1M100 349.5h8m10 0h2m18 0h3m7 0h3m20 0h1m114 0h1m3 0h2m14 0h1m1 0h8m2 0h2m4 0h1m8 0h1m6 0h1m11 0h2m32 0h2M100 350.5h8m10 0h2m6 0h2m10 0h3m7 0h3m20 0h1m118 0h2m14 0h1m1 0h8m2 0h2m32 0h2m32 0h2M102 351.5h14m2 0h2m8 0h2m18 0h2m12 0h1m64 0h2m57 0h2m32 0h2m6 0h2m62 0h2m59 0h2M102 352.5h14m12 0h2m32 0h1m64 0h2m56 0h3m10 0h2m20 0h2m6 0h3m27 0h2m93 0h2M102 353.5h2m2 0h4m2 0h2m2 0h2m3 0h1m8 0h2m5 0h1m24 0h1m38 0h2m48 0h2m13 0h1m8 0h2m6 0h2m7 0h2m2 0h1m1 0h2m12 0h4m8 0h2M102 354.5h2m2 0h4m2 0h2m2 0h2m19 0h3m22 0h1m38 0h2m48 0h2m22 0h2m6 0h2m5 0h4m2 0h1m1 0h2m12 0h4m8 0h2m9 0h1M100 355.5h4m2 0h2m2 0h4m2 0h4m2 0h1m10 0h1m2 0h2m26 0h1m64 0h1m13 0h2m16 0h2m12 0h1m1 0h1m7 0h1m4 0h6m6 0h2m2 0h2m9 0h1m20 0h1m11 0h1m86 0h1M100 356.5h4m2 0h2m2 0h4m2 0h4m13 0h1m2 0h2m91 0h1m13 0h2m16 0h2m12 0h1m1 0h1m7 0h2m3 0h7m5 0h2m2 0h2m9 0h1m20 0h1m11 0h1m86 0h1M100 357.5h4m2 0h8m2 0h4m14 0h2m75 0h1m12 0h1m4 0h2m11 0h1m17 0h3m4 0h2m8 0h2m5 0h4m4 0h5m4 0h1m5 0h1m34 0h2m21 0h1m42 0h2m7 0h1M100 358.5h18m4 0h2m16 0h2m7 0h3m79 0h2m12 0h2m2 0h2m6 0h2m16 0h8m3 0h5m1 0h6m8 0h2m1 0h1m3 0h1m72 0h2m8 0h1m132 0h2M100 359.5h18m1 0h1m2 0h2m16 0h2m7 0h3m79 0h2m5 0h1m6 0h2m2 0h2m6 0h3m15 0h8m2 0h1m2 0h3m1 0h6m7 0h3m14 0h2m8 0h1m196 0h2M100 360.5h2m4 0h9m3 0h4m14 0h2m11 0h1m57 0h1m5 0h2m25 0h1m20 0h4m10 0h2m2 0h2m2 0h3m2 0h6m5 0h1m2 0h2m48 0h2m38 0h2m26 0h1M100 361.5h2m4 0h9m1 0h6m14 0h2m11 0h1m4 0h2m57 0h2m25 0h1m20 0h4m12 0h4m2 0h2m5 0h5m4 0h1m2 0h2m1 0h1m1 0h1m14 0h1m29 0h2m38 0h2M102 362.5h2m2 0h6m2 0h4m1 0h1m18 0h2m26 0h1m62 0h2m27 0h1m7 0h1m8 0h4m2 0h11m6 0h2m4 0h1m11 0h2m14 0h1m6 0h1m4 0h2m8 0h1m55 0h1M102 363.5h2m2 0h6m2 0h4m1 0h1m1 0h1m3 0h1m12 0h2m126 0h1m8 0h4m2 0h9m8 0h2m16 0h2m26 0h2m8 0h1M102 364.5h4m4 0h4m3 0h1m14 0h3m11 0h4m37 0h2m54 0h1m5 0h1m9 0h2m4 0h2m2 0h2m2 0h2m2 0h2m2 0h4m4 0h1m4 0h1m6 0h1m6 0h2m2 0h2m27 0h1m10 0h2m30 0h2m104 0h1M102 365.5h4m4 0h4m3 0h1m7 0h1m8 0h1m11 0h4m37 0h2m54 0h1m15 0h2m4 0h2m2 0h2m2 0h2m2 0h2m2 0h4m4 0h1m11 0h1m6 0h2m2 0h2m38 0h2m30 0h2m101 0h2M102 366.5h2m4 0h4m4 0h2m12 0h2m30 0h1m30 0h1m36 0h1m12 0h2m14 0h2m6 0h2m6 0h2m2 0h2m4 0h1m2 0h2m2 0h2m2 0h2m22 0h4m54 0h1M102 367.5h2m4 0h4m4 0h2m4 0h2m6 0h2m16 0h2m69 0h2m9 0h1m12 0h2m12 0h4m6 0h2m6 0h2m2 0h2m4 0h1m6 0h2m2 0h2m12 0h1m9 0h4m20 0h2m32 0h1M102 368.5h2m4 0h4m10 0h2m4 0h1m3 0h2m12 0h1m46 0h2m56 0h2m16 0h1m3 0h3m1 0h2m4 0h5m8 0h4m20 0h2m46 0h2m14 0h2M102 369.5h2m4 0h4m10 0h2m8 0h2m12 0h1m21 0h1m24 0h2m50 0h2m22 0h1m1 0h1m1 0h2m4 0h2m2 0h2m1 0h2m8 0h4m20 0h2m46 0h2m14 0h2M104 370.5h10m14 0h2m10 0h2m4 0h2m8 0h2m4 0h1m2 0h2m8 0h1m2 0h1m18 0h2m28 0h1m2 0h1m17 0h1m2 0h1m5 0h2m4 0h2m3 0h1m6 0h4m4 0h1m1 0h1m5 0h3m4 0h2m8 0h2m6 0h2m2 0h1m5 0h2m64 0h2M104 371.5h10m5 0h1m3 0h1m4 0h2m10 0h2m4 0h2m8 0h2m7 0h2m30 0h2m28 0h1m2 0h1m20 0h1m11 0h2m3 0h1m4 0h1m1 0h4m6 0h1m5 0h3m4 0h2m8 0h2m6 0h2m2 0h1m5 0h2m64 0h2M102 372.5h11m1 0h2m2 0h4m14 0h1m10 0h1m37 0h1m59 0h1m6 0h1m4 0h2m11 0h1m6 0h2m4 0h4m7 0h1m1 0h1m1 0h2m10 0h2m12 0h2m14 0h1m4 0h1m4 0h1M102 373.5h6m2 0h2m4 0h2m4 0h1m5 0h2m2 0h2m14 0h1m9 0h2m22 0h1m19 0h1m8 0h2m50 0h4m8 0h2m2 0h2m2 0h3m1 0h1m28 0h2m76 0h1m2 0h1M102 374.5h6m2 0h2m4 0h2m4 0h1m5 0h2m2 0h2m5 0h1m18 0h2m51 0h2m10 0h2m38 0h5m3 0h1m3 0h2m1 0h3m2 0h3m75 0h1m32 0h1m80 0h1M104 375.5h6m2 0h2m2 0h2m2 0h2m4 0h2m18 0h1m15 0h1m10 0h2m46 0h1m15 0h2m10 0h2m4 0h4m1 0h1m2 0h2m4 0h2m2 0h2m2 0h3m1 0h2m2 0h1m26 0h2m10 0h2m18 0h1M104 376.5h6m2 0h2m2 0h2m2 0h2m4 0h2m34 0h1m10 0h2m46 0h1m15 0h2m10 0h2m4 0h4m1 0h1m2 0h4m2 0h2m2 0h2m1 0h1m4 0h2m2 0h1m26 0h2M100 377.5h6m2 0h4m10 0h2m4 0h2m2 0h2m12 0h1m15 0h1m82 0h2m2 0h4m2 0h2m4 0h6m4 0h2m1 0h1m4 0h4m3 0h2m6 0h2m8 0h2m10 0h1m5 0h1m15 0h2m24 0h2m22 0h2M100 378.5h6m2 0h4m16 0h2m2 0h2m28 0h1m86 0h4m2 0h2m4 0h6m4 0h2m6 0h2m13 0h2m19 0h2m5 0h1m15 0h2m24 0h2m22 0h2M100 379.5h2m2 0h10m8 0h2m31 0h1m22 0h1m40 0h2m26 0h2m4 0h4m2 0h4m4 0h2m2 0h10m2 0h3m17 0h1m48 0h2m8 0h2M100 380.5h2m2 0h10m8 0h2m3 0h1m10 0h2m8 0h1m1 0h2m3 0h1m22 0h1m30 0h2m8 0h2m26 0h2m4 0h4m2 0h6m2 0h2m2 0h6m2 0h2m2 0h3m17 0h1m28 0h2m18 0h2m8 0h2M104 381.5h2m2 0h2m4 0h2m2 0h2m6 0h4m14 0h1m1 0h4m22 0h1m38 0h2m24 0h2m3 0h1m7 0h1m3 0h1m4 0h6m2 0h2m4 0h1m1 0h2m4 0h1m1 0h3m94 0h2M104 382.5h2m2 0h2m4 0h2m2 0h2m8 0h2m14 0h1m1 0h4m61 0h2m24 0h2m3 0h1m16 0h6m2 0h2m4 0h1m1 0h2m4 0h1m1 0h2m47 0h1m47 0h2M100 383.5h4m2 0h8m1 0h3m2 0h1m1 0h4m21 0h1m1 0h1m18 0h1m26 0h2m4 0h2m8 0h1m11 0h2m12 0h4m1 0h3m2 0h1m1 0h3m1 0h6m4 0h4m2 0h2m4 0h4m17 0h2m12 0h2m2 0h2m18 0h1m1 0h2m10 0h2m17 0h1M100 384.5h4m2 0h8m1 0h3m2 0h1m1 0h4m21 0h1m1 0h1m45 0h2m4 0h2m20 0h2m12 0h4m1 0h1m2 0h3m1 0h3m1 0h6m4 0h4m2 0h2m4 0h4m9 0h2m6 0h2m16 0h2m9 0h1m8 0h1m1 0h2m10 0h2m17 0h1m71 0h1M102 385.5h4m2 0h6m4 0h1m5 0h2m3 0h1m3 0h1m5 0h1m8 0h2m12 0h1m27 0h1m14 0h2m15 0h1m8 0h4m11 0h1m2 0h4m2 0h12m2 0h6m1 0h1m8 0h1m26 0h2m12 0h1m3 0h1m10 0h1m6 0h2m3 0h1m1 0h1m16 0h1m58 0h2m82 0h1M106 386.5h6m8 0h2m8 0h2m6 0h2m6 0h4m17 0h1m9 0h2m14 0h2m16 0h2m14 0h4m6 0h2m8 0h4m2 0h4m2 0h4m2 0h2m2 0h8m9 0h2m2 0h2m2 0h2m43 0h1m4 0h2M106 387.5h6m8 0h2m16 0h2m6 0h4m12 0h1m4 0h1m9 0h2m14 0h2m16 0h2m14 0h4m6 0h2m8 0h4m2 0h4m2 0h4m2 0h2m4 0h6m9 0h2m2 0h2m2 0h2m43 0h1m4 0h2M100 388.5h8m2 0h8m2 0h6m2 0h2m6 0h1m9 0h2m1 0h1m12 0h1m14 0h2m2 0h2m22 0h1m25 0h2m6 0h1m3 0h2m2 0h6m4 0h14m2 0h4m3 0h3m3 0h2m15 0h1m10 0h2m195 0h2M100 389.5h8m2 0h8m2 0h4m4 0h4m4 0h1m12 0h1m12 0h1m14 0h2m2 0h2m48 0h2m6 0h1m1 0h4m2 0h6m4 0h12m4 0h4m3 0h3m3 0h2m15 0h1m10 0h2M102 390.5h6m2 0h2m4 0h2m10 0h4m4 0h1m1 0h2m4 0h6m21 0h2m14 0h1m9 0h2m12 0h2m29 0h17m4 0h4m3 0h1m2 0h1m7 0h2m2 0h1m62 0h2m90 0h1M102 391.5h6m2 0h2m4 0h2m10 0h4m6 0h2m4 0h6m19 0h1m1 0h2m14 0h1m9 0h2m12 0h2m4 0h2m23 0h17m4 0h4m3 0h3m8 0h2m33 0h2m30 0h2m90 0h1M100 392.5h10m9 0h1m1 0h1m1 0h1m2 0h2m6 0h2m10 0h4m19 0h2m42 0h2m10 0h1m9 0h14m2 0h4m2 0h2m2 0h2m2 0h4m2 0h2m10 0h3m4 0h2m12 0h2m12 0h2m29 0h3m40 0h2m14 0h2M100 393.5h10m6 0h2m3 0h1m4 0h2m10 0h1m7 0h4m19 0h2m58 0h2m2 0h16m2 0h4m2 0h2m2 0h2m2 0h4m2 0h2m10 0h3m28 0h2m2 0h3m13 0h1m15 0h2m10 0h2m28 0h2m14 0h2M100 394.5h6m10 0h4m4 0h4m20 0h2m54 0h1m14 0h2m12 0h1m5 0h4m2 0h12m2 0h2m4 0h2m4 0h2m11 0h1m5 0h2m46 0h2m67 0h1M100 395.5h6m10 0h4m4 0h4m20 0h2m69 0h2m12 0h1m5 0h4m2 0h12m2 0h2m4 0h2m4 0h2m17 0h2m40 0h1m199 0h1m51 0h1M106 396.5h6m2 0h4m14 0h2m12 0h4m12 0h1m28 0h2m8 0h2m13 0h1m6 0h2m2 0h6m2 0h8m4 0h6m2 0h2m2 0h4m2 0h2m2 0h1m3 0h2m21 0h2m6 0h2m55 0h1M106 397.5h6m2 0h4m12 0h4m12 0h4m4 0h2m32 0h1m2 0h2m8 0h2m13 0h1m6 0h2m2 0h6m2 0h8m4 0h6m2 0h2m2 0h4m2 0h2m2 0h1m26 0h2m6 0h2m38 0h1m16 0h1M106 398.5h2m2 0h2m4 0h2m1 0h1m4 0h1m1 0h6m11 0h1m2 0h4m17 0h2m30 0h2m4 0h2m2 0h2m18 0h2m6 0h12m2 0h12m4 0h2m2 0h1m1 0h2m21 0h2m29 0h1m8 0h2m14 0h2m10 0h4M106 399.5h2m2 0h2m4 0h2m6 0h1m1 0h6m14 0h4m17 0h2m18 0h2m10 0h2m3 0h3m2 0h2m10 0h1m7 0h2m6 0h12m2 0h12m4 0h2m2 0h1m1 0h2m21 0h2m29 0h1m8 0h2m14 0h2m10 0h4m99 0h2M100 400.5h10m2 0h5m1 0h2m17 0h1m10 0h4m11 0h2m18 0h2m20 0h2m12 0h2m6 0h12m2 0h10m2 0h4m2 0h3m10 0h1m6 0h1m3 0h2m5 0h5m19 0h1m5 0h1m7 0h1m10 0h1m4 0h2m21 0h3m24 0h1m61 0h1M100 401.5h4m2 0h4m1 0h2m1 0h2m13 0h1m14 0h4m13 0h1m25 0h2m4 0h2m14 0h1m9 0h6m2 0h4m2 0h2m2 0h2m2 0h8m2 0h10m4 0h4m2 0h2m4 0h2m7 0h2m4 0h1m15 0h2m1 0h1m8 0h1m65 0h2m5 0h1M100 402.5h4m2 0h4m1 0h2m1 0h2m13 0h1m14 0h4m13 0h1m25 0h4m2 0h2m14 0h1m9 0h6m2 0h4m2 0h2m2 0h2m2 0h8m2 0h10m4 0h2m4 0h2m4 0h2m7 0h2m4 0h1m1 0h1m13 0h2m1 0h1m8 0h1m65 0h2m5 0h1m6 0h1M102 403.5h2m2 0h8m10 0h1m1 0h2m8 0h2m6 0h4m23 0h2m6 0h2m13 0h3m5 0h1m6 0h2m12 0h10m2 0h4m2 0h18m2 0h4m2 0h1m2 0h2m1 0h1m1 0h1m2 0h1m35 0h1m6 0h1m15 0h1m2 0h1m15 0h2m17 0h1m41 0h2m30 0h2m4 0h2M102 404.5h2m2 0h8m12 0h4m6 0h2m8 0h2m23 0h2m6 0h2m21 0h1m6 0h2m12 0h10m2 0h4m2 0h18m2 0h7m3 0h1m1 0h1m1 0h1m38 0h1m6 0h1m15 0h2m1 0h1m15 0h2m59 0h2m30 0h2m4 0h2M102 405.5h10m2 0h4m4 0h2m22 0h4m14 0h1m4 0h2m14 0h1m7 0h2m20 0h2m12 0h4m2 0h4m2 0h2m4 0h6m2 0h2m1 0h3m2 0h4m1 0h1m19 0h2m2 0h2m12 0h1m19 0h2m16 0h2m16 0h2m230 0h1M102 406.5h10m2 0h4m4 0h2m22 0h4m14 0h1m4 0h2m24 0h2m18 0h2m12 0h4m2 0h4m2 0h2m4 0h6m2 0h2m1 0h3m2 0h4m1 0h1m19 0h2m2 0h2m2 0h2m8 0h1m19 0h2m16 0h2m16 0h2m20 0h2m208 0h1M102 407.5h2m4 0h2m7 0h1m8 0h2m16 0h1m1 0h4m12 0h1m30 0h2m2 0h2m4 0h2m2 0h2m14 0h2m2 0h6m2 0h2m10 0h2m2 0h4m2 0h1m1 0h4m2 0h2m2 0h2m13 0h1m7 0h2m20 0h1m15 0h1m53 0h2m57 0h2M102 408.5h2m4 0h2m7 0h1m2 0h2m4 0h2m16 0h1m1 0h4m47 0h2m4 0h2m2 0h2m14 0h2m2 0h6m2 0h2m10 0h2m2 0h4m1 0h2m1 0h4m2 0h2m2 0h2m13 0h2m6 0h2m36 0h1m53 0h2m57 0h2M102 409.5h4m8 0h2m2 0h1m9 0h2m16 0h4m15 0h2m26 0h1m15 0h4m2 0h4m2 0h4m4 0h10m2 0h6m4 0h6m5 0h3m12 0h2m13 0h2m4 0h2m11 0h1m18 0h2m2 0h2m14 0h2m10 0h1m21 0h2m4 0h2m158 0h2M102 410.5h4m6 0h1m1 0h2m2 0h1m9 0h2m16 0h4m15 0h4m20 0h2m2 0h1m5 0h2m8 0h2m3 0h5m2 0h4m4 0h10m2 0h6m4 0h6m5 0h3m12 0h2m13 0h2m4 0h2m11 0h1m18 0h2m2 0h2m14 0h2m10 0h1m21 0h2m4 0h2m158 0h2M102 411.5h2m2 0h2m2 0h4m1 0h3m10 0h2m13 0h1m2 0h4m2 0h2m6 0h3m3 0h1m34 0h2m3 0h1m6 0h14m4 0h4m2 0h6m2 0h8m2 0h2m2 0h2m2 0h1m9 0h2m4 0h2m13 0h2m14 0h2m22 0h2m34 0h3m48 0h2M102 412.5h2m2 0h2m2 0h4m1 0h3m28 0h4m12 0h1m3 0h1m34 0h2m10 0h14m4 0h4m2 0h6m2 0h8m2 0h2m2 0h2m2 0h1m9 0h2m4 0h2m13 0h2m38 0h2m34 0h2m49 0h2m16 0h2M102 413.5h2m2 0h6m8 0h4m4 0h2m10 0h4m2 0h4m12 0h1m42 0h3m3 0h8m2 0h6m2 0h6m8 0h2m10 0h2m1 0h1m2 0h4m8 0h2m21 0h1m40 0h1m2 0h2m2 0h2m18 0h1m3 0h2m2 0h1m70 0h2M102 414.5h2m2 0h6m8 0h4m4 0h2m10 0h4m2 0h4m12 0h1m42 0h3m3 0h8m2 0h6m2 0h6m8 0h2m10 0h2m4 0h4m8 0h2m13 0h2m54 0h2m18 0h1m3 0h2m2 0h1M102 415.5h8m6 0h2m1 0h3m4 0h3m11 0h2m4 0h4m3 0h1m6 0h1m1 0h1m22 0h2m10 0h1m1 0h2m2 0h2m2 0h22m2 0h6m2 0h11m1 0h2m1 0h1m6 0h2m8 0h2m11 0h1m13 0h1m42 0h1m8 0h2M102 416.5h2m4 0h2m10 0h2m4 0h5m34 0h2m8 0h2m6 0h4m12 0h2m2 0h3m1 0h6m4 0h4m2 0h6m4 0h2m4 0h6m8 0h2m4 0h2m1 0h2m22 0h1m7 0h2m6 0h2m38 0h1m5 0h2m204 0h2M102 417.5h2m4 0h2m10 0h2m4 0h5m20 0h1m8 0h2m3 0h2m8 0h2m6 0h4m12 0h2m2 0h2m2 0h6m4 0h4m2 0h6m4 0h2m4 0h6m8 0h2m4 0h2m1 0h2m22 0h1m5 0h4m6 0h2m250 0h2M100 418.5h2m4 0h5m3 0h4m10 0h2m2 0h4m7 0h1m2 0h2m17 0h2m16 0h2m2 0h2m12 0h2m2 0h2m6 0h8m2 0h2m2 0h4m2 0h10m4 0h2m4 0h2m37 0h2m6 0h1m11 0h2m16 0h2m8 0h2m97 0h2M100 419.5h2m4 0h4m4 0h4m10 0h2m2 0h4m10 0h2m17 0h2m9 0h1m6 0h2m2 0h2m3 0h1m10 0h1m1 0h2m6 0h8m2 0h2m2 0h4m2 0h10m4 0h2m4 0h2m28 0h2m7 0h4m28 0h2m4 0h2m8 0h2m4 0h2m91 0h2M104 420.5h4m8 0h2m2 0h2m2 0h1m3 0h2m1 0h1m14 0h4m1 0h1m10 0h1m30 0h2m2 0h2m6 0h2m2 0h4m2 0h4m2 0h10m2 0h10m6 0h2m7 0h1m14 0h2m2 0h1m3 0h2m2 0h1m8 0h2m24 0h1m100 0h2M104 421.5h4m8 0h2m2 0h2m2 0h1m3 0h2m16 0h4m1 0h1m10 0h1m16 0h2m8 0h1m3 0h2m2 0h2m6 0h2m2 0h4m2 0h4m2 0h10m2 0h10m3 0h1m2 0h2m7 0h1m14 0h2m2 0h1m3 0h2m2 0h1m8 0h2m24 0h1m31 0h2m24 0h1m42 0h2M100 422.5h8m2 0h1m3 0h10m24 0h2m12 0h3m4 0h2m12 0h2m2 0h2m4 0h1m5 0h22m2 0h4m6 0h2m4 0h2m2 0h2m2 0h3m1 0h2m2 0h3m27 0h1m18 0h2m8 0h4m9 0h1m12 0h2m34 0h2m3 0h1m45 0h2M100 423.5h8m6 0h2m4 0h4m24 0h2m12 0h3m4 0h2m12 0h2m2 0h2m10 0h22m2 0h4m6 0h2m4 0h2m2 0h3m1 0h3m1 0h2m4 0h1m27 0h1m18 0h2m8 0h4m9 0h1m12 0h2m34 0h2m49 0h2M100 424.5h2m2 0h4m4 0h2m6 0h2m4 0h2m20 0h2m31 0h2m6 0h2m1 0h1m2 0h6m2 0h18m2 0h6m2 0h2m2 0h2m2 0h3m1 0h6m16 0h2m8 0h2m4 0h2m21 0h1m6 0h3m12 0h2m20 0h2m36 0h1M100 425.5h2m2 0h4m2 0h1m1 0h2m6 0h2m2 0h4m20 0h2m21 0h1m9 0h2m6 0h2m2 0h1m1 0h6m2 0h18m2 0h6m2 0h2m2 0h2m2 0h3m1 0h6m2 0h2m12 0h2m8 0h2m4 0h2m28 0h3m12 0h2m20 0h2M100 426.5h6m3 0h1m10 0h2m6 0h2m16 0h4m31 0h2m6 0h1m1 0h2m4 0h6m2 0h4m2 0h8m4 0h10m2 0h2m11 0h1m6 0h2m37 0h1m49 0h1m16 0h1M100 427.5h6m22 0h2m16 0h4m31 0h2m5 0h1m2 0h4m2 0h6m2 0h4m2 0h8m4 0h10m2 0h2m11 0h1m6 0h2m37 0h1m49 0h1m16 0h1M104 428.5h4m2 0h4m2 0h2m2 0h2m6 0h2m16 0h4m12 0h1m16 0h4m2 0h8m2 0h16m2 0h2m2 0h4m2 0h2m2 0h6m2 0h10m4 0h2m12 0h2m14 0h2m6 0h1m25 0h1m56 0h2m38 0h1m7 0h1m12 0h2m28 0h2m64 0h2M104 429.5h4m2 0h4m2 0h2m10 0h2m16 0h4m10 0h2m17 0h4m2 0h8m2 0h16m2 0h2m2 0h4m2 0h2m2 0h6m2 0h10m4 0h2m4 0h1m7 0h2m10 0h2m2 0h2m6 0h1m48 0h1m33 0h2m38 0h1m20 0h2m28 0h2m64 0h2M102 430.5h4m2 0h2m1 0h1m10 0h1m3 0h1m1 0h2m18 0h2m4 0h2m18 0h1m7 0h1m1 0h3m4 0h2m2 0h14m6 0h2m2 0h2m2 0h6m2 0h2m2 0h2m4 0h2m2 0h2m2 0h2m2 0h1m1 0h2m2 0h3m13 0h2m20 0h1m17 0h1m25 0h1m12 0h1m13 0h2m39 0h1M102 431.5h6m8 0h2m10 0h2m6 0h2m8 0h2m14 0h1m11 0h1m6 0h2m2 0h2m2 0h2m2 0h2m8 0h6m2 0h2m2 0h10m2 0h8m12 0h2m38 0h1m60 0h2M102 432.5h6m1 0h1m10 0h1m7 0h2m16 0h2m14 0h1m11 0h2m5 0h2m2 0h2m2 0h2m2 0h2m8 0h6m2 0h2m2 0h10m2 0h8m5 0h1m6 0h2m12 0h2m24 0h1m60 0h2m28 0h1M102 433.5h8m8 0h2m6 0h2m6 0h1m1 0h2m2 0h1m7 0h2m13 0h1m9 0h1m7 0h2m2 0h18m2 0h4m2 0h6m4 0h2m2 0h6m4 0h2m18 0h2m4 0h1m1 0h2m6 0h2m27 0h2m28 0h2m10 0h2m48 0h2m4 0h2m13 0h2M102 434.5h8m6 0h4m6 0h2m6 0h1m1 0h2m2 0h1m1 0h1m5 0h2m13 0h1m9 0h1m7 0h2m2 0h18m2 0h4m2 0h6m4 0h2m2 0h8m2 0h2m1 0h1m16 0h2m4 0h1m1 0h2m6 0h2m12 0h1m14 0h2m28 0h2m4 0h2m4 0h2m54 0h2m13 0h2M104 435.5h6m2 0h2m14 0h4m4 0h2m14 0h2m3 0h1m1 0h1m2 0h1m10 0h2m8 0h2m2 0h2m2 0h12m2 0h8m2 0h19m1 0h4m4 0h3m1 0h2m2 0h2m1 0h1m4 0h2m14 0h4m6 0h1m24 0h1m40 0h1m12 0h2m14 0h2M104 436.5h6m2 0h2m14 0h4m4 0h2m4 0h2m8 0h2m5 0h1m2 0h1m4 0h2m4 0h2m8 0h2m2 0h2m2 0h12m2 0h8m2 0h19m1 0h4m4 0h3m1 0h2m2 0h2m1 0h1m20 0h4m6 0h1m18 0h2m15 0h1m29 0h1m3 0h1m2 0h2m2 0h1m1 0h2m14 0h2M102 437.5h2m2 0h5m3 0h2m2 0h2m4 0h1m2 0h3m14 0h6m8 0h5m6 0h2m6 0h2m6 0h2m2 0h2m4 0h2m2 0h4m4 0h10m2 0h10m3 0h1m4 0h5m18 0h1m20 0h2m1 0h1m38 0h1m24 0h2m10 0h2m22 0h2m32 0h1m56 0h2M102 438.5h2m2 0h5m3 0h2m1 0h3m4 0h1m2 0h3m6 0h1m7 0h6m8 0h5m14 0h2m6 0h2m2 0h2m4 0h2m2 0h4m4 0h10m2 0h11m2 0h1m4 0h4m27 0h1m12 0h2m1 0h1m38 0h1m24 0h2m10 0h2m22 0h2m32 0h1m56 0h2M104 439.5h2m2 0h2m6 0h2m10 0h2m2 0h2m12 0h2m4 0h1m9 0h1m4 0h6m12 0h10m2 0h8m2 0h2m4 0h12m2 0h4m2 0h2m8 0h2m2 0h2m22 0h2m15 0h2m12 0h2m24 0h1m14 0h1m218 0h2M104 440.5h2m2 0h2m6 0h2m10 0h2m16 0h2m4 0h1m9 0h1m4 0h6m12 0h10m2 0h8m2 0h2m4 0h12m2 0h4m2 0h2m8 0h2m2 0h2m2 0h2m18 0h2m15 0h2m12 0h2m39 0h1m46 0h1m171 0h2M102 441.5h10m2 0h2m18 0h1m7 0h1m3 0h4m7 0h1m4 0h1m6 0h4m4 0h4m2 0h2m2 0h2m6 0h2m2 0h2m4 0h6m2 0h8m4 0h2m4 0h2m8 0h2m9 0h1m2 0h2m4 0h1m3 0h2m26 0h1m38 0h2m6 0h1m7 0h2m2 0h4m8 0h2M102 442.5h6m6 0h2m26 0h1m3 0h4m12 0h1m6 0h4m3 0h5m2 0h2m2 0h2m6 0h2m2 0h2m4 0h6m2 0h8m4 0h2m4 0h2m8 0h2m9 0h1m2 0h2m4 0h1m3 0h2m26 0h1m17 0h1m10 0h1m9 0h2m14 0h2m2 0h4m8 0h2M106 443.5h2m2 0h1m3 0h2m4 0h4m4 0h2m12 0h8m8 0h2m5 0h1m7 0h2m4 0h6m4 0h2m2 0h4m4 0h6m4 0h2m2 0h2m2 0h8m8 0h1m4 0h1m40 0h2m9 0h2m12 0h2m18 0h2m10 0h4m8 0h2m38 0h1m28 0h1M106 444.5h2m6 0h2m4 0h4m4 0h2m12 0h8m8 0h2m13 0h3m3 0h6m4 0h2m2 0h4m4 0h6m4 0h2m2 0h2m2 0h8m13 0h1m65 0h2m10 0h2m6 0h2m10 0h4m8 0h2m8 0h1m29 0h1m28 0h1m69 0h1M102 445.5h2m2 0h2m2 0h2m28 0h10m11 0h1m1 0h1m4 0h2m1 0h1m3 0h6m2 0h12m6 0h10m2 0h8m4 0h2m1 0h3m6 0h2m2 0h2m3 0h1m6 0h2m4 0h1m7 0h2m8 0h1m112 0h1M104 446.5h4m2 0h2m8 0h4m4 0h3m5 0h2m5 0h1m12 0h1m5 0h1m8 0h2m2 0h10m2 0h4m10 0h8m4 0h2m2 0h6m2 0h2m16 0h2m10 0h2m24 0h2m17 0h2m38 0h2m12 0h2m8 0h4m24 0h2M104 447.5h4m2 0h2m8 0h4m4 0h3m5 0h2m5 0h1m12 0h1m5 0h1m8 0h2m2 0h10m2 0h4m10 0h8m4 0h2m2 0h6m2 0h2m16 0h2m10 0h2m16 0h2m6 0h2m15 0h4m4 0h2m32 0h2m12 0h2m8 0h4m24 0h2M104 448.5h6m2 0h2m2 0h3m9 0h2m12 0h8m8 0h2m2 0h1m8 0h16m2 0h16m2 0h10m2 0h2m2 0h2m10 0h2m2 0h1m64 0h2m11 0h1m20 0h2m16 0h2m81 0h2M104 449.5h6m2 0h2m2 0h2m10 0h2m14 0h6m8 0h2m2 0h1m8 0h16m2 0h16m2 0h10m2 0h2m2 0h2m10 0h2m2 0h1m11 0h2m20 0h2m29 0h3m10 0h1m20 0h2m20 0h2m16 0h2m59 0h2M102 450.5h4m6 0h4m1 0h1m4 0h2m2 0h6m2 0h2m8 0h4m4 0h4m6 0h2m7 0h2m2 0h10m4 0h2m8 0h8m2 0h4m4 0h2m6 0h3m1 0h2m1 0h1m2 0h2m12 0h2m15 0h1m10 0h2m17 0h2m13 0h1m32 0h2m10 0h2M102 451.5h4m6 0h4m6 0h2m2 0h6m2 0h2m8 0h4m8 0h2m4 0h1m8 0h2m2 0h10m4 0h2m8 0h8m2 0h4m4 0h2m8 0h1m1 0h2m1 0h1m2 0h2m12 0h2m26 0h2m32 0h1m4 0h1m17 0h1m9 0h2m10 0h2M116 452.5h1m1 0h1m1 0h2m2 0h4m20 0h2m1 0h3m6 0h3m4 0h1m1 0h2m2 0h2m2 0h2m2 0h2m2 0h2m4 0h2m4 0h4m2 0h4m4 0h6m18 0h2m1 0h1m6 0h2m2 0h6m20 0h2m69 0h2m12 0h1m7 0h2m24 0h1m3 0h2m39 0h2M108 453.5h1m7 0h1m1 0h1m1 0h2m2 0h4m20 0h2m1 0h3m6 0h4m3 0h1m1 0h2m2 0h2m2 0h2m2 0h2m2 0h2m4 0h2m4 0h4m2 0h4m4 0h6m18 0h2m8 0h2m2 0h4m22 0h2m69 0h2m2 0h1m9 0h1m7 0h2m24 0h1m44 0h2M106 454.5h2m4 0h2m2 0h4m2 0h2m4 0h2m2 0h4m4 0h2m6 0h4m14 0h13m8 0h2m6 0h2m2 0h2m2 0h6m2 0h7m4 0h3m4 0h2m2 0h4m6 0h2m14 0h2m20 0h1m1 0h2m2 0h1m8 0h1m11 0h2m54 0h2m6 0h2M106 455.5h2m4 0h2m4 0h2m2 0h2m4 0h2m2 0h2m6 0h2m6 0h4m14 0h13m8 0h2m6 0h2m2 0h2m2 0h6m2 0h7m5 0h2m1 0h1m2 0h2m2 0h4m6 0h2m14 0h2m4 0h2m14 0h1m5 0h1m8 0h1m11 0h2m54 0h2m6 0h2M104 456.5h6m8 0h2m4 0h2m2 0h4m8 0h2m2 0h2m2 0h2m4 0h2m7 0h14m8 0h2m2 0h2m2 0h4m2 0h26m4 0h5m3 0h4m6 0h2m10 0h4m4 0h2m47 0h1m9 0h2m14 0h2m2 0h2m97 0h2m12 0h1M104 457.5h6m8 0h2m4 0h2m2 0h4m8 0h2m1 0h3m2 0h2m4 0h2m7 0h14m8 0h2m2 0h2m2 0h4m2 0h16m2 0h8m4 0h2m2 0h1m3 0h4m6 0h2m2 0h2m6 0h4m39 0h2m12 0h1m23 0h4m2 0h2m97 0h2M104 458.5h6m3 0h1m4 0h2m8 0h3m5 0h2m2 0h2m6 0h6m2 0h5m6 0h8m2 0h2m2 0h2m2 0h2m2 0h22m8 0h2m4 0h2m4 0h2m3 0h1m2 0h2m4 0h1m9 0h2m34 0h1m1 0h1m30 0h2m6 0h2m40 0h2m16 0h2m65 0h2M104 459.5h6m3 0h1m4 0h2m6 0h1m1 0h3m5 0h2m2 0h2m6 0h13m6 0h8m2 0h2m2 0h2m2 0h2m2 0h22m8 0h2m1 0h1m2 0h2m12 0h2m14 0h2m34 0h1m1 0h1m38 0h2m40 0h2m16 0h2m15 0h1M104 460.5h6m12 0h3m3 0h2m2 0h2m2 0h1m23 0h19m2 0h4m2 0h6m2 0h2m2 0h8m2 0h2m5 0h5m1 0h1m6 0h1m6 0h3m10 0h2m10 0h1m8 0h1m1 0h1m17 0h2m5 0h1m11 0h1m17 0h1m10 0h2m35 0h1m16 0h4m162 0h2M102 461.5h4m4 0h2m2 0h2m12 0h2m8 0h8m13 0h1m3 0h10m10 0h2m2 0h6m2 0h6m2 0h2m2 0h6m15 0h1m14 0h2m5 0h1m24 0h2m23 0h1m15 0h2m6 0h4m2 0h2m10 0h4m6 0h2m42 0h1m14 0h2m7 0h1m102 0h2M102 462.5h4m4 0h2m2 0h2m12 0h2m8 0h8m6 0h3m4 0h1m3 0h10m10 0h2m2 0h6m2 0h6m2 0h2m2 0h6m15 0h1m14 0h2m55 0h1m15 0h2m6 0h4m2 0h2m10 0h4m6 0h2m2 0h1m39 0h1m14 0h2m110 0h2M104 463.5h8m6 0h5m5 0h2m14 0h2m2 0h2m8 0h4m3 0h4m10 0h4m2 0h22m2 0h2m2 0h1m3 0h1m3 0h2m8 0h2m4 0h1m5 0h2m34 0h1m18 0h2m4 0h2m17 0h3m20 0h2m8 0h2m93 0h1M104 464.5h8m8 0h3m5 0h2m5 0h1m8 0h2m2 0h2m8 0h4m3 0h4m10 0h4m2 0h22m2 0h2m2 0h1m7 0h2m8 0h2m4 0h1m4 0h3m34 0h1m18 0h2m4 0h2m4 0h2m11 0h3m20 0h2m8 0h2m93 0h1M102 465.5h2m2 0h2m7 0h1m9 0h7m8 0h2m4 0h4m8 0h4m3 0h2m12 0h2m2 0h4m4 0h2m2 0h2m4 0h2m2 0h2m16 0h5m2 0h5m4 0h2m4 0h2m28 0h2m11 0h2m9 0h3m10 0h1m21 0h4m10 0h2m2 0h2m14 0h2m4 0h1m12 0h1m8 0h2M102 466.5h2m2 0h2m17 0h7m8 0h2m4 0h4m2 0h1m5 0h4m3 0h2m12 0h2m2 0h4m4 0h2m2 0h2m4 0h2m2 0h2m7 0h1m8 0h5m2 0h5m4 0h2m4 0h2m28 0h2m11 0h2m9 0h3m34 0h2m10 0h2m24 0h1m12 0h1M104 467.5h2m6 0h2m6 0h4m4 0h2m2 0h1m7 0h10m1 0h3m2 0h6m21 0h4m2 0h4m4 0h2m2 0h4m6 0h4m2 0h2m2 0h5m1 0h2m4 0h2m2 0h2m4 0h2m10 0h2m2 0h2m11 0h1m19 0h2m2 0h2m4 0h2m2 0h2M104 468.5h2m6 0h2m6 0h4m4 0h2m2 0h1m1 0h2m4 0h10m1 0h3m2 0h6m21 0h4m2 0h4m4 0h2m2 0h4m6 0h4m2 0h2m2 0h5m1 0h2m4 0h2m2 0h2m4 0h2m10 0h2m2 0h2m12 0h2m8 0h1m12 0h2m4 0h2m2 0h2m107 0h1M106 469.5h4m2 0h3m7 0h2m2 0h4m2 0h2m4 0h6m2 0h2m2 0h1m3 0h2m2 0h2m3 0h2m8 0h14m2 0h4m2 0h8m1 0h5m2 0h2m2 0h4m6 0h6m10 0h2m6 0h2m14 0h2m29 0h2M106 470.5h4m2 0h3m5 0h4m2 0h4m2 0h2m4 0h6m2 0h2m4 0h4m2 0h2m3 0h2m8 0h14m2 0h4m2 0h8m1 0h5m2 0h2m2 0h6m4 0h6m18 0h2m14 0h2m29 0h2m108 0h1M106 471.5h8m2 0h1m7 0h1m2 0h3m10 0h2m4 0h8m4 0h4m9 0h2m2 0h2m4 0h18m2 0h3m5 0h2m1 0h3m6 0h7m11 0h6m2 0h2m2 0h2m2 0h2m18 0h2m2 0h1m1 0h2m6 0h1m26 0h1m27 0h1m51 0h2m20 0h1M106 472.5h6m2 0h1m1 0h1m3 0h1m3 0h1m2 0h3m10 0h2m4 0h8m4 0h4m9 0h2m2 0h2m4 0h18m2 0h2m2 0h1m3 0h2m1 0h3m6 0h7m11 0h2m2 0h2m2 0h2m2 0h2m2 0h2m22 0h1m1 0h2m6 0h1m26 0h1m27 0h1m16 0h1m34 0h2M104 473.5h2m2 0h2m2 0h7m6 0h9m4 0h7m1 0h4m2 0h8m17 0h2m2 0h2m2 0h2m2 0h6m2 0h4m2 0h1m2 0h3m9 0h1m2 0h1m3 0h2m6 0h4m4 0h2m9 0h1m27 0h1m4 0h1m18 0h2m22 0h2m2 0h2m33 0h1m10 0h2m2 0h2m8 0h4m4 0h1M104 474.5h2m4 0h4m2 0h1m11 0h4m6 0h4m2 0h2m2 0h8m17 0h2m4 0h6m2 0h6m4 0h6m1 0h1m8 0h2m4 0h3m4 0h3m22 0h2m15 0h1m6 0h2m29 0h2m10 0h2m12 0h2m6 0h2m14 0h1m15 0h2m8 0h2m89 0h2M104 475.5h2m4 0h4m11 0h1m2 0h4m6 0h4m2 0h2m2 0h8m17 0h2m4 0h6m2 0h6m4 0h6m1 0h1m5 0h1m2 0h2m4 0h2m5 0h3m22 0h2m22 0h2m29 0h2m10 0h2m12 0h2m6 0h2m30 0h2m8 0h2m89 0h2M104 476.5h8m6 0h1m7 0h4m2 0h14m2 0h6m13 0h4m2 0h8m2 0h22m6 0h2m1 0h4m5 0h1m7 0h1m3 0h1m2 0h1m2 0h6m8 0h2m14 0h4m19 0h1m15 0h2m30 0h2m1 0h1m8 0h1m41 0h2M104 477.5h8m3 0h1m2 0h1m7 0h4m2 0h14m2 0h6m13 0h4m2 0h8m2 0h22m6 0h2m1 0h3m6 0h1m7 0h1m6 0h1m2 0h6m8 0h2m14 0h5m18 0h1m15 0h2m30 0h2m10 0h1m41 0h2m69 0h2M106 478.5h10m2 0h2m2 0h2m2 0h2m2 0h2m8 0h2m6 0h4m13 0h2m2 0h2m2 0h2m2 0h2m2 0h6m8 0h2m2 0h2m2 0h6m4 0h2m2 0h2m12 0h2m2 0h2m12 0h2m4 0h2m12 0h2m22 0h1m22 0h2m44 0h2m16 0h2M106 479.5h10m2 0h2m2 0h2m2 0h2m2 0h2m8 0h2m6 0h4m13 0h2m2 0h2m2 0h2m2 0h2m2 0h6m8 0h2m2 0h2m2 0h6m4 0h2m2 0h2m4 0h2m6 0h2m2 0h2m18 0h2m9 0h1m2 0h2m22 0h1m22 0h2m44 0h2m16 0h2M110 480.5h4m2 0h2m6 0h2m2 0h14m6 0h4m13 0h4m2 0h2m2 0h10m2 0h2m2 0h2m2 0h2m2 0h1m1 0h5m19 0h2m2 0h4m8 0h2m20 0h2m6 0h1m5 0h2m9 0h2m5 0h1m10 0h2m6 0h2m8 0h1m3 0h1m17 0h1m3 0h2m10 0h2m14 0h2m22 0h2M110 481.5h4m2 0h2m6 0h2m2 0h14m6 0h4m13 0h4m2 0h2m2 0h10m2 0h2m2 0h2m2 0h2m4 0h5m19 0h2m2 0h4m8 0h2m16 0h2m16 0h2m9 0h2m5 0h1m10 0h2m16 0h1m21 0h1m15 0h2m38 0h2m121 0h2M106 482.5h6m2 0h6m5 0h3m4 0h12m4 0h2m15 0h2m2 0h2m2 0h2m2 0h10m2 0h4m2 0h2m14 0h2m2 0h2m20 0h2m6 0h4m1 0h1m15 0h1m2 0h2m9 0h1m41 0h2m6 0h1m33 0h2m117 0h2M106 483.5h6m2 0h6m5 0h3m4 0h12m4 0h2m15 0h2m2 0h2m2 0h2m2 0h10m2 0h4m2 0h2m8 0h2m4 0h2m2 0h2m2 0h2m16 0h2m6 0h2m3 0h1m15 0h1m55 0h2m6 0h1m13 0h2m137 0h2M112 484.5h2m6 0h2m2 0h4m2 0h4m2 0h4m4 0h2m14 0h2m1 0h6m4 0h8m2 0h4m4 0h4m4 0h2m2 0h4m4 0h2m2 0h2m9 0h1m10 0h2m2 0h4m2 0h2m2 0h2m18 0h2m2 0h2m25 0h2m18 0h2m26 0h2m27 0h1m26 0h2m84 0h1m51 0h2M112 485.5h2m6 0h2m2 0h4m2 0h4m2 0h4m4 0h2m14 0h2m1 0h6m4 0h8m2 0h4m4 0h4m4 0h2m2 0h4m2 0h4m2 0h2m20 0h2m2 0h4m2 0h2m2 0h2m2 0h2m14 0h2m2 0h2m45 0h2m26 0h2m54 0h2m136 0h2M108 486.5h6m2 0h4m2 0h12m2 0h10m14 0h5m2 0h6m4 0h8m2 0h4m4 0h2m4 0h2m10 0h4m4 0h1m9 0h1m33 0h2m2 0h2m1 0h3m8 0h1m42 0h4m4 0h2m37 0h1m4 0h2m2 0h2m4 0h2m111 0h2M108 487.5h6m2 0h4m2 0h12m2 0h10m14 0h5m2 0h6m4 0h8m2 0h4m4 0h2m2 0h4m9 0h5m4 0h1m9 0h1m33 0h2m2 0h2m2 0h2m8 0h1m44 0h2m4 0h2m37 0h1m8 0h2m4 0h2m111 0h2M108 488.5h4m2 0h6m2 0h4m2 0h6m2 0h8m19 0h6m2 0h10m2 0h6m4 0h4m3 0h5m2 0h1m1 0h2m2 0h2m33 0h1m3 0h1m3 0h1m3 0h4m2 0h3m10 0h2m18 0h1m8 0h1m15 0h2m6 0h2m9 0h1m3 0h1m20 0h2m22 0h1m4 0h1m77 0h2M108 489.5h2m2 0h2m2 0h8m2 0h2m4 0h4m2 0h2m2 0h2m10 0h4m5 0h2m2 0h6m2 0h12m2 0h2m2 0h2m2 0h2m6 0h1m3 0h4m2 0h4m10 0h4m3 0h1m2 0h1m5 0h4m4 0h2m24 0h2m23 0h1m13 0h2m24 0h2m2 0h2m6 0h2m14 0h2m2 0h2m10 0h1m9 0h2M108 490.5h2m2 0h2m2 0h8m2 0h2m4 0h4m2 0h2m2 0h2m10 0h4m5 0h2m2 0h6m2 0h12m2 0h2m2 0h2m2 0h2m6 0h1m3 0h4m2 0h4m10 0h4m3 0h1m6 0h1m1 0h4m2 0h1m1 0h2m24 0h2m23 0h1m35 0h2m2 0h2m2 0h2m6 0h2m14 0h2m2 0h2m10 0h1m9 0h2M108 491.5h8m2 0h2m2 0h2m2 0h2m6 0h6m14 0h2m2 0h4m1 0h6m4 0h8m2 0h4m4 0h2m4 0h2m5 0h1m2 0h2m10 0h2m2 0h4m16 0h2m6 0h2m4 0h2m2 0h2m25 0h2m29 0h1m10 0h2m14 0h1m2 0h1m4 0h4m16 0h2m1 0h1m2 0h1m50 0h2M108 492.5h8m2 0h2m2 0h2m2 0h2m6 0h6m14 0h2m2 0h4m1 0h6m4 0h8m2 0h4m4 0h2m4 0h2m5 0h1m2 0h2m10 0h2m2 0h5m4 0h1m10 0h2m6 0h2m4 0h2m2 0h2m8 0h2m8 0h2m5 0h2m29 0h1m1 0h1m8 0h2m22 0h4m16 0h2m4 0h1m50 0h2m44 0h1M108 493.5h2m2 0h2m2 0h6m2 0h2m6 0h8m12 0h2m13 0h8m2 0h16m2 0h2m10 0h4m6 0h2m14 0h4m10 0h2m4 0h1m8 0h1m10 0h2m13 0h1m19 0h4m13 0h5m8 0h2m2 0h2m10 0h2m2 0h1m36 0h1m188 0h2M108 494.5h2m2 0h2m2 0h6m2 0h2m6 0h8m12 0h2m13 0h8m2 0h16m2 0h2m6 0h3m1 0h4m6 0h2m2 0h2m10 0h4m7 0h1m8 0h1m8 0h1m10 0h4m11 0h1m19 0h4m14 0h2m10 0h2m2 0h2m10 0h2m72 0h1m155 0h2M110 495.5h2m2 0h8m2 0h14m14 0h2m6 0h2m3 0h4m4 0h8m4 0h12m4 0h4m2 0h1m9 0h4m4 0h2m3 0h2m3 0h2m4 0h4m2 0h4m6 0h2m4 0h2m19 0h1m3 0h2m13 0h3m20 0h1m19 0h2m4 0h4m22 0h2m88 0h1M110 496.5h2m2 0h8m2 0h14m14 0h2m6 0h2m3 0h4m4 0h8m4 0h12m4 0h2m14 0h2m6 0h2m3 0h1m10 0h4m2 0h4m12 0h2m16 0h2m5 0h2m14 0h2m10 0h2m8 0h1m19 0h2m2 0h4m18 0h2m36 0h1m57 0h1m113 0h2M112 497.5h6m2 0h8m4 0h2m18 0h6m4 0h3m2 0h24m2 0h2m2 0h2m2 0h2m1 0h3m12 0h4m20 0h2m14 0h2m1 0h1m22 0h1m2 0h1m3 0h2m16 0h2m2 0h2m28 0h2m10 0h2m2 0h2m4 0h2m2 0h2m21 0h1m1 0h1m89 0h2m36 0h2M112 498.5h6m2 0h8m4 0h2m18 0h6m4 0h3m2 0h24m2 0h2m2 0h2m2 0h2m1 0h3m7 0h1m4 0h4m20 0h2m14 0h2m31 0h2m20 0h2m12 0h1m15 0h2m10 0h2m2 0h2m4 0h2m2 0h2m23 0h1m89 0h2m36 0h2M110 499.5h14m28 0h2m4 0h2m7 0h16m2 0h2m2 0h6m2 0h2m8 0h2m1 0h1m2 0h2m4 0h1m3 0h2m2 0h4m5 0h1m7 0h3m8 0h2m27 0h1m1 0h2m10 0h2m4 0h6m1 0h1m11 0h1m6 0h4m2 0h1m1 0h2m1 0h3m2 0h2m8 0h2m2 0h2m6 0h4m22 0h2m4 0h2m13 0h2m13 0h1M110 500.5h14m28 0h2m4 0h2m7 0h16m2 0h2m2 0h6m2 0h2m2 0h2m4 0h2m1 0h1m2 0h2m4 0h1m3 0h4m2 0h2m6 0h1m6 0h3m8 0h2m27 0h1m1 0h2m10 0h2m2 0h8m13 0h1m6 0h2m4 0h1m1 0h2m6 0h2m8 0h2m2 0h2m6 0h4m22 0h2m4 0h2m13 0h2m13 0h1m28 0h2M112 501.5h2m2 0h2m2 0h2m8 0h2m16 0h2m10 0h9m2 0h24m10 0h2m6 0h2m5 0h1m6 0h2m2 0h4m2 0h2m2 0h3m1 0h1m6 0h3m2 0h2m20 0h2m1 0h3m3 0h2m4 0h2m12 0h2m10 0h2m4 0h2m1 0h1m2 0h1m7 0h2m3 0h1m8 0h4m1 0h1m10 0h2m8 0h2m6 0h2m4 0h2m1 0h1m13 0h2m24 0h1m6 0h1m11 0h1m67 0h1M112 502.5h2m2 0h2m2 0h2m8 0h2m16 0h2m10 0h9m2 0h24m14 0h2m2 0h2m5 0h1m6 0h2m2 0h2m4 0h2m2 0h3m9 0h2m2 0h2m2 0h2m16 0h2m1 0h3m3 0h2m4 0h2m12 0h2m10 0h2m4 0h2m1 0h1m6 0h1m8 0h1m8 0h4m12 0h2m8 0h2m6 0h2m4 0h2m1 0h1m13 0h2m31 0h1M114 503.5h4m4 0h2m2 0h2m18 0h2m6 0h2m7 0h2m4 0h2m2 0h4m2 0h16m6 0h2m1 0h1m1 0h1m2 0h4m3 0h1m2 0h2m4 0h1m4 0h1m7 0h3m1 0h1m1 0h1m1 0h7m12 0h2m4 0h1m7 0h1m25 0h1m4 0h1m5 0h2m4 0h2m4 0h2m1 0h3m24 0h2m11 0h1m8 0h1m23 0h1m1 0h1m58 0h1M110 504.5h4m4 0h2m2 0h2m32 0h4m5 0h6m2 0h8m2 0h2m8 0h2m2 0h6m10 0h6m2 0h1m3 0h2m2 0h1m3 0h2m8 0h2m25 0h1m21 0h2m2 0h2m36 0h1m1 0h4m8 0h2m6 0h2m4 0h1m1 0h2m6 0h2m10 0h2m12 0h2m89 0h1m7 0h2M110 505.5h4m4 0h2m2 0h2m32 0h4m5 0h6m2 0h8m2 0h2m8 0h2m2 0h6m10 0h6m6 0h2m2 0h1m13 0h2m25 0h1m2 0h2m17 0h2m2 0h2m15 0h1m20 0h1m1 0h4m8 0h2m6 0h2m4 0h1m1 0h2m6 0h2m10 0h2m95 0h2m6 0h1m7 0h2m48 0h1M114 506.5h2m2 0h6m28 0h2m4 0h2m5 0h2m2 0h12m2 0h2m4 0h12m4 0h2m2 0h2m6 0h2m2 0h2m4 0h4m1 0h1m2 0h2m2 0h2m2 0h2m3 0h1m7 0h1m4 0h1m3 0h2m7 0h5m8 0h3m4 0h2m18 0h1m9 0h4m15 0h3m6 0h4m2 0h2m2 0h2m22 0h2m47 0h2m6 0h1m122 0h2M114 507.5h2m2 0h6m28 0h2m4 0h2m5 0h2m2 0h12m2 0h2m4 0h12m4 0h2m2 0h2m1 0h1m8 0h2m4 0h4m1 0h1m2 0h2m2 0h6m3 0h1m7 0h1m8 0h2m7 0h5m1 0h1m7 0h2m4 0h4m16 0h1m8 0h5m1 0h1m14 0h2m6 0h4m2 0h2m2 0h2m10 0h2m10 0h2m22 0h1m24 0h2m129 0h2m2 0h2M160 508.5h2m1 0h2m6 0h10m2 0h8m4 0h6m2 0h2m6 0h4m1 0h2m3 0h2m4 0h1m3 0h2m2 0h2m13 0h1m4 0h2m8 0h4m8 0h2m2 0h2m9 0h2m5 0h1m9 0h3m8 0h4m8 0h2m4 0h3m7 0h5m7 0h6m12 0h2m9 0h3m35 0h2m5 0h1m16 0h2m103 0h2M160 509.5h2m1 0h2m6 0h10m2 0h8m4 0h6m2 0h2m6 0h4m1 0h2m3 0h2m4 0h1m3 0h2m2 0h2m13 0h1m4 0h2m8 0h4m8 0h2m2 0h2m21 0h2m3 0h3m8 0h4m14 0h2m6 0h1m1 0h5m7 0h6m24 0h2m35 0h2m5 0h1m16 0h2m103 0h2M110 510.5h2m2 0h2m42 0h4m3 0h8m2 0h8m2 0h8m4 0h4m2 0h2m2 0h2m2 0h2m2 0h2m2 0h2m2 0h10m2 0h2m1 0h1m1 0h1m4 0h2m6 0h2m2 0h2m6 0h1m1 0h2m5 0h1m2 0h2m7 0h2m4 0h2m4 0h2m6 0h1m1 0h1m7 0h2m6 0h2m12 0h2m18 0h2m2 0h4m10 0h2m2 0h2m29 0h2m20 0h1m71 0h2m2 0h2m4 0h4m47 0h4M110 511.5h2m2 0h2m42 0h4m3 0h8m2 0h8m2 0h8m4 0h4m2 0h2m2 0h2m2 0h2m2 0h2m1 0h3m2 0h10m5 0h1m1 0h1m4 0h2m6 0h2m2 0h2m6 0h1m1 0h2m3 0h1m1 0h1m2 0h2m7 0h2m2 0h4m4 0h2m8 0h1m7 0h2m3 0h1m2 0h2m21 0h1m4 0h2m4 0h2m2 0h4m10 0h2m5 0h1m49 0h1m71 0h2m2 0h2m4 0h4m47 0h4M152 512.5h4m11 0h12m2 0h12m6 0h4m6 0h4m12 0h2m2 0h2m2 0h2m8 0h4m12 0h2m6 0h2m2 0h2m6 0h2m4 0h1m20 0h2m2 0h2m12 0h3m3 0h2m4 0h2m4 0h5m3 0h2m6 0h6m2 0h2m8 0h4m2 0h2m1 0h3m6 0h2m78 0h1m14 0h2m4 0h2m26 0h2m31 0h2m26 0h2M152 513.5h4m11 0h12m2 0h12m6 0h4m6 0h4m12 0h2m2 0h2m2 0h2m8 0h4m8 0h2m2 0h2m10 0h2m6 0h2m4 0h1m20 0h2m2 0h2m12 0h3m3 0h2m4 0h2m4 0h5m3 0h2m6 0h6m2 0h2m4 0h1m3 0h4m2 0h2m1 0h3m6 0h2m12 0h1m19 0h1m55 0h1m4 0h2m4 0h2m7 0h1m18 0h2m31 0h2m26 0h2M156 514.5h2m4 0h3m2 0h2m2 0h20m2 0h2m2 0h2m2 0h6m2 0h3m1 0h8m6 0h2m2 0h2m2 0h2m2 0h4m4 0h1m2 0h1m4 0h6m4 0h2m2 0h6m2 0h1m6 0h1m4 0h1m4 0h4m2 0h2m10 0h2m4 0h3m3 0h2m2 0h2m4 0h4m2 0h2m8 0h6m4 0h2m2 0h2m14 0h1m3 0h2m2 0h1m7 0h1m26 0h1m9 0h2m84 0h2m49 0h1M156 515.5h2m4 0h3m2 0h2m2 0h20m2 0h2m2 0h2m2 0h6m2 0h2m2 0h4m2 0h2m6 0h2m2 0h2m2 0h2m2 0h2m3 0h1m2 0h1m2 0h1m4 0h6m4 0h10m2 0h1m6 0h2m8 0h2m4 0h2m10 0h2m4 0h3m3 0h2m2 0h2m4 0h4m2 0h2m8 0h6m4 0h2m2 0h2m7 0h1m10 0h2m2 0h1m130 0h2m34 0h1M158 516.5h7m6 0h4m2 0h6m2 0h4m2 0h6m2 0h4m4 0h4m2 0h1m5 0h2m2 0h4m2 0h2m3 0h1m2 0h4m2 0h2m13 0h1m2 0h6m2 0h5m18 0h2m3 0h1m7 0h3m2 0h2m8 0h2m13 0h1m8 0h5m9 0h2m4 0h6m4 0h2m4 0h2m2 0h1m17 0h6m25 0h2m10 0h2m127 0h2M158 517.5h7m6 0h4m2 0h6m2 0h4m2 0h6m2 0h4m4 0h4m2 0h1m5 0h2m2 0h8m3 0h1m2 0h4m2 0h4m14 0h6m2 0h4m4 0h2m6 0h1m6 0h2m3 0h1m1 0h1m6 0h2m2 0h2m6 0h1m16 0h1m1 0h1m6 0h5m9 0h2m4 0h6m2 0h1m1 0h2m4 0h2m2 0h1m11 0h1m5 0h6m25 0h2m10 0h2m54 0h2m71 0h2m4 0h2M160 518.5h3m2 0h12m2 0h2m2 0h6m2 0h6m6 0h8m2 0h10m2 0h2m4 0h2m1 0h1m1 0h2m1 0h3m2 0h1m5 0h1m1 0h1m2 0h1m12 0h1m2 0h1m1 0h2m4 0h4m3 0h2m2 0h3m7 0h2m4 0h2m2 0h2m1 0h2m1 0h6m6 0h2m1 0h1m2 0h1m4 0h1m6 0h2m1 0h7m2 0h2m6 0h5m1 0h2m2 0h1m7 0h2m5 0h3m74 0h1m10 0h1m5 0h1m11 0h2m2 0h2m20 0h2m47 0h2M165 519.5h6m2 0h16m4 0h4m2 0h2m2 0h4m2 0h8m2 0h2m2 0h2m4 0h4m1 0h1m2 0h9m1 0h5m5 0h2m2 0h4m2 0h2m2 0h2m2 0h1m2 0h1m1 0h2m1 0h2m5 0h2m1 0h1m2 0h3m1 0h10m2 0h3m1 0h4m2 0h10m2 0h8m4 0h2m4 0h2m1 0h4m3 0h4m4 0h6m7 0h2m1 0h2m8 0h2m2 0h3m17 0h1m4 0h2m133 0h2M165 520.5h6m2 0h16m4 0h4m2 0h2m2 0h4m2 0h8m2 0h2m2 0h2m4 0h4m4 0h9m1 0h4m6 0h2m4 0h2m2 0h2m2 0h2m5 0h1m1 0h2m1 0h2m2 0h1m2 0h2m1 0h1m2 0h2m2 0h10m2 0h3m1 0h4m4 0h8m2 0h6m6 0h2m4 0h2m1 0h4m3 0h4m4 0h6m7 0h1m2 0h2m8 0h2m2 0h3m3 0h2m1 0h1m10 0h1m4 0h2m30 0h2m48 0h2m51 0h2M169 521.5h10m2 0h16m2 0h8m2 0h2m2 0h4m4 0h4m2 0h2m2 0h8m6 0h2m2 0h4m4 0h2m2 0h2m8 0h1m1 0h4m1 0h1m2 0h3m1 0h4m7 0h8m2 0h8m2 0h6m2 0h2m2 0h4m2 0h10m2 0h8m2 0h14m6 0h2m8 0h2m3 0h1m4 0h4m6 0h1m16 0h1m49 0h4m28 0h2m33 0h2m12 0h2m8 0h2m4 0h2m11 0h1M169 522.5h10m2 0h16m2 0h8m2 0h2m2 0h4m4 0h4m2 0h2m2 0h8m6 0h2m2 0h10m12 0h1m1 0h4m1 0h1m2 0h3m1 0h3m5 0h1m2 0h8m2 0h8m2 0h6m2 0h2m2 0h4m2 0h10m2 0h8m2 0h14m2 0h1m3 0h2m8 0h2m3 0h1m4 0h4m9 0h1m11 0h1m51 0h4m63 0h2m12 0h2m8 0h2m4 0h2m22 0h1M158 523.5h4m3 0h4m2 0h2m2 0h10m2 0h2m2 0h2m4 0h2m6 0h8m2 0h2m6 0h16m2 0h6m4 0h8m6 0h8m2 0h29m2 0h2m2 0h2m2 0h6m2 0h10m2 0h2m6 0h8m2 0h2m2 0h10m2 0h2m5 0h3m24 0h5m1 0h2m5 0h2m1 0h3m6 0h1m9 0h1m2 0h1m3 0h1m86 0h2m17 0h2m36 0h2M158 524.5h4m3 0h4m2 0h2m2 0h10m2 0h2m2 0h2m4 0h2m6 0h8m2 0h2m6 0h16m2 0h6m4 0h8m6 0h8m2 0h29m2 0h2m2 0h2m2 0h6m2 0h10m2 0h2m6 0h8m2 0h2m2 0h11m1 0h2m6 0h2m5 0h1m18 0h5m1 0h2m5 0h2m1 0h3m6 0h1m16 0h1m105 0h2m36 0h2M177 525.5h6m2 0h6m4 0h2m2 0h4m6 0h2m2 0h26m2 0h2m2 0h8m2 0h4m4 0h16m13 0h10m2 0h8m2 0h8m2 0h2m2 0h2m2 0h2m2 0h10m2 0h8m8 0h10m2 0h2m2 0h2m9 0h1m1 0h3m8 0h2m5 0h2m20 0h2m8 0h2m4 0h2m4 0h2m10 0h2m14 0h4m5 0h1m2 0h2m9 0h1m16 0h2m41 0h2m27 0h1M177 526.5h6m2 0h6m4 0h2m2 0h4m6 0h2m2 0h26m2 0h2m2 0h8m2 0h4m4 0h16m13 0h10m2 0h8m2 0h8m2 0h2m2 0h2m2 0h2m2 0h10m2 0h8m8 0h10m2 0h2m2 0h2m9 0h1m1 0h3m8 0h2m5 0h2m20 0h2m8 0h2m4 0h2m4 0h2m10 0h2m14 0h4m5 0h1m2 0h2m69 0h2M158 527.5h4m3 0h2m2 0h16m2 0h2m6 0h2m2 0h10m2 0h2m2 0h2m2 0h2m8 0h16m2 0h4m2 0h14m2 0h21m4 0h2m4 0h4m6 0h4m2 0h4m2 0h24m6 0h16m6 0h4m2 0h2m2 0h2m2 0h2m2 0h2m2 0h2m4 0h4m11 0h2m18 0h2m6 0h2m6 0h2m4 0h2m3 0h1m4 0h4m14 0h2m24 0h2m8 0h2m52 0h1M158 528.5h4m3 0h2m2 0h16m2 0h2m6 0h2m2 0h10m2 0h2m2 0h2m2 0h2m8 0h16m2 0h4m2 0h14m2 0h21m4 0h2m4 0h4m6 0h4m2 0h4m2 0h24m6 0h16m6 0h4m2 0h2m2 0h2m2 0h6m2 0h2m4 0h4m4 0h1m6 0h2m18 0h2m6 0h2m5 0h3m4 0h2m3 0h1m4 0h4m2 0h1m11 0h2m33 0h3m17 0h1m34 0h1M154 529.5h2m9 0h2m14 0h2m2 0h4m6 0h2m2 0h4m2 0h6m6 0h6m8 0h2m4 0h4m6 0h10m2 0h8m2 0h4m8 0h4m3 0h28m2 0h4m2 0h2m2 0h6m6 0h12m2 0h2m2 0h2m2 0h14m2 0h4m2 0h6m4 0h4m1 0h1m4 0h8m11 0h2m2 0h2m2 0h2m4 0h2m4 0h2m5 0h1m4 0h2m11 0h1m10 0h2m8 0h2m3 0h1m4 0h2m2 0h2m2 0h1m3 0h2m6 0h2m6 0h2m11 0h2m6 0h1m13 0h2m14 0h2m8 0h2M154 530.5h2m9 0h2m14 0h2m2 0h4m6 0h2m2 0h4m2 0h6m6 0h6m8 0h2m4 0h4m6 0h10m2 0h8m2 0h4m8 0h4m3 0h28m2 0h4m2 0h2m2 0h6m6 0h12m2 0h2m2 0h2m2 0h14m2 0h4m2 0h6m4 0h4m6 0h8m4 0h1m1 0h1m4 0h2m2 0h2m2 0h2m4 0h2m4 0h2m5 0h1m4 0h2m22 0h2m8 0h2m3 0h1m4 0h2m2 0h5m3 0h2m6 0h2m6 0h2m19 0h1m13 0h2m14 0h2m8 0h2M169 531.5h2m2 0h2m4 0h2m4 0h2m4 0h4m4 0h2m8 0h4m4 0h6m4 0h6m2 0h18m8 0h4m4 0h16m1 0h2m4 0h18m2 0h2m4 0h2m2 0h2m2 0h4m2 0h2m8 0h2m2 0h20m2 0h2m4 0h16m4 0h2m4 0h6m4 0h5m6 0h2m8 0h4m4 0h6m4 0h3m19 0h2m2 0h2m2 0h2m1 0h1m6 0h4m2 0h2m32 0h1m8 0h2m10 0h2m8 0h2m9 0h1m22 0h1M169 532.5h2m2 0h2m4 0h2m4 0h2m4 0h4m4 0h2m8 0h4m4 0h6m4 0h6m2 0h18m8 0h4m4 0h16m1 0h2m4 0h18m2 0h2m4 0h2m2 0h2m2 0h4m2 0h2m8 0h2m2 0h20m2 0h2m4 0h16m4 0h2m4 0h6m4 0h5m4 0h1m1 0h2m4 0h2m2 0h4m4 0h6m4 0h3m13 0h1m5 0h2m9 0h1m6 0h5m1 0h2m41 0h2m10 0h2m6 0h1m1 0h2m9 0h1m22 0h1M193 533.5h2m6 0h6m2 0h4m2 0h2m8 0h4m4 0h4m2 0h2m2 0h2m4 0h4m2 0h6m2 0h2m2 0h2m2 0h4m4 0h13m2 0h8m4 0h2m2 0h2m2 0h6m10 0h2m8 0h2m2 0h24m4 0h6m6 0h4m2 0h2m4 0h4m6 0h9m2 0h6m2 0h6m2 0h4m2 0h2m6 0h8m8 0h2m4 0h4m1 0h1m8 0h2m6 0h2m2 0h4m8 0h2m23 0h1m7 0h4m2 0h2m14 0h1m7 0h2m2 0h2m3 0h2m12 0h1M209 534.5h2m2 0h2m10 0h10m2 0h6m4 0h4m2 0h4m4 0h4m2 0h4m2 0h4m6 0h2m1 0h4m6 0h2m4 0h2m2 0h4m6 0h4m2 0h6m2 0h2m2 0h2m2 0h8m2 0h4m4 0h10m2 0h2m2 0h18m4 0h4m2 0h4m2 0h5m2 0h2m2 0h2m2 0h6m2 0h2m2 0h22m2 0h2m4 0h2m4 0h8m6 0h2m2 0h4m4 0h2m1 0h6m1 0h2m6 0h2m2 0h4m4 0h2m2 0h4m5 0h2m5 0h1m6 0h2m6 0h2m14 0h6m2 0h1m9 0h2M209 535.5h2m2 0h2m10 0h10m2 0h6m4 0h4m2 0h4m4 0h4m2 0h4m2 0h4m6 0h2m1 0h4m6 0h2m4 0h2m2 0h4m6 0h4m2 0h6m2 0h2m2 0h2m2 0h8m2 0h4m4 0h10m2 0h2m2 0h18m4 0h4m2 0h4m2 0h5m2 0h2m2 0h2m2 0h6m2 0h2m2 0h22m2 0h2m4 0h2m4 0h8m6 0h2m2 0h4m4 0h2m2 0h5m1 0h2m18 0h2m2 0h4m5 0h2m5 0h1m6 0h2m6 0h2m2 0h4m8 0h6m2 0h1m5 0h1m3 0h2M207 536.5h2m4 0h2m4 0h2m6 0h2m4 0h2m10 0h2m2 0h2m4 0h2m24 0h2m5 0h2m12 0h2m10 0h2m8 0h2m18 0h2m4 0h4m10 0h2m2 0h2m4 0h4m2 0h2m2 0h2m2 0h2m2 0h2m2 0h2m8 0h4m3 0h4m8 0h2m2 0h10m2 0h6m2 0h4m2 0h2m2 0h18m2 0h2m2 0h8m2 0h4m2 0h2m2 0h4m2 0h2m2 0h21m6 0h2m8 0h6m2 0h2m2 0h8m4 0h1m3 0h4m4 0h2m1 0h3M207 537.5h2m4 0h2m4 0h2m6 0h2m4 0h2m10 0h2m2 0h2m4 0h2m24 0h2m5 0h2m12 0h2m10 0h2m8 0h2m18 0h2m4 0h4m10 0h2m2 0h2m4 0h4m2 0h2m2 0h2m2 0h2m2 0h2m2 0h2m8 0h4m3 0h4m8 0h2m2 0h10m2 0h6m2 0h4m2 0h2m2 0h18m2 0h2m2 0h8m2 0h4m2 0h2m2 0h4m2 0h2m2 0h21m6 0h2m8 0h7m1 0h2m2 0h8m4 0h1m3 0h2m6 0h2m1 0h3M211 538.5h2m38 0h2m8 0h2m2 0h2m2 0h6m6 0h2m29 0h2m38 0h2m18 0h4m6 0h2m12 0h4m2 0h8m5 0h4m2 0h2m2 0h2m4 0h2m2 0h6m2 0h8m2 0h4m4 0h6m4 0h2m6 0h2m2 0h16m4 0h22m2 0h19m4 0h6m2 0h10m2 0h4m6 0h2m2 0h12M211 539.5h2m38 0h2m8 0h2m2 0h2m2 0h6m6 0h2m29 0h2m38 0h2m18 0h4m6 0h2m12 0h4m2 0h8m5 0h4m2 0h2m2 0h2m4 0h2m2 0h6m2 0h8m2 0h4m4 0h6m4 0h2m6 0h2m2 0h16m4 0h22m2 0h19m4 0h6m2 0h10m2 0h4m6 0h2m2 0h12"/>
<path stroke="#0000e3" d="M100 186.5h2M100 187.5h2M100 207.5h2M100 208.5h2M102 226.5h2M100 240.5h2M100 241.5h2M100 246.5h2m276 0h2M100 247.5h2m276 0h2M100 252.5h2M100 253.5h2M100 254.5h2M100 255.5h4M100 256.5h4M104 257.5h2M104 258.5h2M100 259.5h2M100 260.5h2M100 261.5h2M100 262.5h2M110 269.5h2M104 272.5h2M104 273.5h2M110 280.5h2m2 0h2M110 281.5h2m2 0h2M110 284.5h2M100 285.5h2M100 286.5h2M102 291.5h2m10 0h4M102 292.5h2m10 0h4M358 293.5h2M358 294.5h2M100 295.5h2M100 296.5h2M100 297.5h2M100 298.5h2M100 299.5h4M100 300.5h4m2 0h2M100 301.5h4m2 0h2M100 302.5h2M100 303.5h2M100 304.5h2M100 305.5h2M104 306.5h2m4 0h2m222 0h2M104 307.5h2m4 0h2m222 0h2M100 308.5h2m2 0h2m6 0h2m226 0h2M100 309.5h2m2 0h2m6 0h2m226 0h2M100 310.5h2m234 0h2M100 311.5h2m234 0h2M102 312.5h2m222 0h4m4 0h2M332 313.5h2m6 0h2M332 314.5h2m6 0h2M116 315.5h2m212 0h2m2 0h2m6 0h2M116 316.5h2m212 0h2m2 0h2m6 0h2M100 317.5h2m2 0h2m4 0h2M100 318.5h2m2 0h2m4 0h2M102 319.5h2m4 0h2m230 0h2M102 320.5h2m4 0h2m230 0h2M114 321.5h2M114 322.5h2M100 323.5h2m220 0h2m14 0h2M100 324.5h2m220 0h2m14 0h2M100 325.5h2M100 326.5h2M100 327.5h2m2 0h2M100 328.5h4M100 329.5h4M100 330.5h4m220 0h2M100 331.5h4m220 0h2M106 332.5h2M106 333.5h2M100 334.5h6m210 0h2M100 335.5h6m210 0h2M100 336.5h2M100 337.5h2M100 338.5h2m8 0h2m194 0h2M100 339.5h2m8 0h2m194 0h2M100 340.5h2m10 0h2M100 341.5h2m10 0h2M100 343.5h2M100 344.5h2M108 349.5h2M108 350.5h2M100 351.5h2M100 352.5h2M100 353.5h2M100 354.5h2M104 355.5h2M104 356.5h2M104 357.5h2M102 360.5h2M102 361.5h2M100 362.5h2M100 363.5h2M100 364.5h2m4 0h2M100 365.5h2m4 0h2M100 366.5h2m2 0h2M100 367.5h2m2 0h2M100 368.5h2m4 0h2M100 369.5h2m4 0h2M100 370.5h4M100 371.5h4M100 373.5h2M100 374.5h2M100 375.5h4M100 376.5h4M102 379.5h2M102 380.5h2M104 383.5h2m153 0h2M104 384.5h2m153 0h2M100 385.5h2m165 0h2M100 386.5h2M100 387.5h2M100 390.5h2M100 391.5h2M128 392.5h2m125 0h2M128 393.5h2m125 0h2M106 394.5h2m149 0h2M106 395.5h2m149 0h2M100 396.5h2m151 0h2m2 0h2M100 397.5h2m151 0h2m2 0h2M100 398.5h6M100 399.5h6M104 401.5h2M104 402.5h2M100 403.5h2M100 404.5h2M100 405.5h2m141 0h4M100 406.5h2m141 0h4M100 407.5h2m2 0h2m107 0h2m18 0h2m2 0h8m4 0h2M100 408.5h2m2 0h2m107 0h2m18 0h2m2 0h8m4 0h2M100 409.5h2m137 0h2M100 410.5h2m137 0h2M100 411.5h2m2 0h2m121 0h2m6 0h2M100 412.5h2m2 0h2m121 0h2m6 0h2M100 413.5h2m117 0h2m6 0h2M100 414.5h2m117 0h2m6 0h2M100 415.5h2m135 0h2M100 416.5h2m2 0h2m40 0h2m81 0h2m4 0h2m83 0h2M100 417.5h2m2 0h2m40 0h2m81 0h2m4 0h2m83 0h2M104 418.5h2m105 0h2m12 0h2m4 0h2M104 419.5h2m105 0h2m12 0h2m4 0h2M100 420.5h2m105 0h2m10 0h2m10 0h2M100 421.5h2m105 0h2m10 0h2m10 0h2M146 422.5h2m73 0h2m4 0h2m2 0h2M146 423.5h2m73 0h2m4 0h2m2 0h2M102 424.5h2m117 0h2m26 0h2M102 425.5h2m117 0h2m26 0h2M203 426.5h2m4 0h2m10 0h2M203 427.5h2m4 0h2m10 0h2M100 428.5h4m107 0h2m2 0h2m4 0h2m2 0h2M100 429.5h4m107 0h2m2 0h2m4 0h2m2 0h2M100 430.5h2m107 0h6m2 0h2M148 431.5h2m47 0h2m14 0h2M148 432.5h2m47 0h2m14 0h2M100 433.5h2m44 0h2m55 0h2m4 0h2m6 0h2m22 0h2M100 434.5h2m44 0h2m55 0h2m4 0h2m6 0h2m22 0h2M100 435.5h4m42 0h2m55 0h2M100 436.5h4m42 0h2m55 0h2M179 437.5h2m10 0h4m2 0h2m4 0h4M179 438.5h2m10 0h4m2 0h2m4 0h4M102 439.5h2m2 0h2m87 0h2m8 0h2m2 0h4M102 440.5h2m2 0h2m87 0h2m8 0h2m2 0h4M100 441.5h2m87 0h6m6 0h4m6 0h2M100 442.5h2m87 0h6m6 0h4m6 0h2M102 443.5h4m79 0h2m10 0h2m8 0h2M102 444.5h4m79 0h2m10 0h2m8 0h2M104 445.5h2m22 0h2m51 0h2m12 0h6m10 0h2M100 446.5h4m8 0h2m34 0h2m35 0h2m6 0h8M100 447.5h4m8 0h2m34 0h2m35 0h2m6 0h8M102 448.5h2m101 0h2M102 449.5h2m101 0h2M100 450.5h2m91 0h6M100 451.5h2m91 0h6M104 452.5h2m22 0h2m16 0h2m39 0h4m2 0h4m4 0h2m4 0h2M104 453.5h2m22 0h2m16 0h2m39 0h4m2 0h4m4 0h2m4 0h2M102 454.5h2m42 0h2m31 0h8m2 0h6m2 0h2M102 455.5h2m42 0h2m31 0h8m2 0h6m2 0h2M102 456.5h2m42 0h2m29 0h8m2 0h2m2 0h2m4 0h2M102 457.5h2m42 0h2m29 0h8m2 0h2m2 0h2m4 0h2M102 458.5h2m40 0h2m16 0h1m16 0h2m6 0h2M102 459.5h2m40 0h2m16 0h1m16 0h2m6 0h2M146 460.5h2m31 0h2m4 0h2m6 0h2m2 0h2M146 461.5h4m12 0h1m10 0h6m2 0h2m2 0h2m18 0h2M146 462.5h4m12 0h1m10 0h6m2 0h2m2 0h2m18 0h2M142 463.5h2m2 0h2m15 0h2m4 0h4m4 0h2m4 0h2M142 464.5h2m2 0h2m15 0h2m4 0h4m4 0h2m4 0h2M104 465.5h2m36 0h2m18 0h1m4 0h6m2 0h4m8 0h4m8 0h2M104 466.5h2m36 0h2m18 0h1m4 0h6m2 0h4m8 0h4m8 0h2M106 467.5h2m54 0h1m4 0h2m4 0h10m4 0h2M106 468.5h2m54 0h1m4 0h2m4 0h10m4 0h2M104 469.5h2m42 0h2m10 0h3m24 0h2M104 470.5h2m42 0h2m10 0h3m24 0h2M102 471.5h4m32 0h2m23 0h2m8 0h2m2 0h4M102 472.5h4m32 0h2m23 0h2m8 0h2m2 0h4M106 473.5h2m61 0h8m2 0h2m2 0h2m2 0h2M106 474.5h2m48 0h4m5 0h4m2 0h2m4 0h2M106 475.5h2m48 0h4m5 0h4m2 0h2m4 0h2M146 476.5h2m6 0h6m11 0h2m8 0h2M146 477.5h2m6 0h6m11 0h2m8 0h2M128 478.5h2m4 0h4m14 0h4m7 0h2m2 0h2m2 0h2m2 0h2m10 0h2M128 479.5h2m4 0h4m14 0h4m7 0h2m2 0h2m2 0h2m2 0h2m10 0h2M104 480.5h4m6 0h2m4 0h2m24 0h2m4 0h2m6 0h2m1 0h2m4 0h2m2 0h2M104 481.5h4m6 0h2m4 0h2m24 0h2m4 0h2m6 0h2m1 0h2m4 0h2m2 0h2M128 482.5h2m16 0h2m2 0h2m8 0h5m6 0h2m2 0h2m10 0h2M128 483.5h2m16 0h2m2 0h2m8 0h5m6 0h2m2 0h2m10 0h2M106 484.5h6m16 0h2m4 0h2m10 0h2m8 0h2m13 0h2m16 0h2M106 485.5h6m16 0h2m4 0h2m10 0h2m8 0h2m13 0h2m16 0h2M104 486.5h4m26 0h2m20 0h4m5 0h2m6 0h4m16 0h2M104 487.5h4m26 0h2m20 0h4m5 0h2m6 0h4m16 0h2M112 488.5h2m20 0h2m8 0h2m10 0h2m11 0h2m18 0h2M106 489.5h2m22 0h2m8 0h2m10 0h2m6 0h3M106 490.5h2m22 0h2m8 0h2m10 0h2m6 0h3M106 491.5h2m20 0h6m18 0h2m15 0h2m10 0h2m4 0h2m6 0h2M106 492.5h2m20 0h6m18 0h2m15 0h2m10 0h2m4 0h2m6 0h2M126 493.5h2m22 0h2m4 0h2m2 0h7M126 494.5h2m22 0h2m4 0h2m2 0h7M106 495.5h4m2 0h2m34 0h4m2 0h4m5 0h2m4 0h4m10 0h2M106 496.5h4m2 0h2m34 0h4m2 0h4m5 0h2m4 0h4m10 0h2M106 497.5h2m2 0h2m16 0h2m4 0h2m12 0h2m8 0h4m3 0h2M106 498.5h2m2 0h2m16 0h2m4 0h2m12 0h2m8 0h4m3 0h2M108 499.5h2m14 0h4m2 0h4m22 0h2m2 0h5m18 0h2M108 500.5h2m14 0h4m2 0h4m22 0h2m2 0h5m18 0h2M118 501.5h2m2 0h4m24 0h6m2 0h2m9 0h2M118 502.5h2m2 0h4m24 0h6m2 0h2m9 0h2M110 503.5h4m4 0h4m2 0h2m2 0h2m18 0h2m8 0h5m2 0h4m2 0h2m4 0h2M108 504.5h2m4 0h4m2 0h2m22 0h2m6 0h4m4 0h5m6 0h2m12 0h2M108 505.5h2m4 0h4m2 0h2m22 0h2m6 0h4m4 0h5m6 0h2m12 0h2M110 506.5h4m12 0h2m8 0h2m6 0h2m8 0h4m5 0h2m2 0h2m18 0h2m149 0h2M110 507.5h4m12 0h2m8 0h2m6 0h2m8 0h4m5 0h2m2 0h2m18 0h2m149 0h2M110 508.5h4m2 0h4m32 0h4m2 0h2m7 0h2m22 0h2M110 509.5h4m2 0h4m32 0h4m2 0h2m7 0h2m22 0h2M116 510.5h2m2 0h2m30 0h6m15 0h2m18 0h2m14 0h2M116 511.5h2m2 0h2m30 0h6m15 0h2m18 0h2m14 0h2M112 512.5h2m32 0h2m8 0h7m2 0h2M112 513.5h2m32 0h2m8 0h7m2 0h2M116 514.5h2m28 0h2m10 0h4m3 0h2M116 515.5h2m28 0h2m10 0h4m3 0h2M148 516.5h2m2 0h2m2 0h2m7 0h6m4 0h2m6 0h2m103 0h2m26 0h2m4 0h2M148 517.5h2m2 0h2m2 0h2m7 0h6m4 0h2m6 0h2m103 0h2m26 0h2m4 0h2M154 518.5h6m3 0h2m12 0h2m2 0h2m18 0h2M144 519.5h2m4 0h2m2 0h2m2 0h2m2 0h1m157 0h2M144 520.5h2m4 0h2m2 0h2m2 0h2m2 0h1m157 0h2M152 521.5h17M152 522.5h17M150 523.5h2m10 0h1m6 0h2m2 0h2m10 0h2m2 0h2m4 0h2m2 0h2m2 0h2m14 0h2m99 0h2m14 0h2m12 0h2m18 0h2M150 524.5h2m10 0h1m6 0h2m2 0h2m10 0h2m2 0h2m4 0h2m2 0h2m2 0h2m14 0h2m99 0h2m14 0h2m12 0h2m18 0h2M152 525.5h2m2 0h2m4 0h1m4 0h4m2 0h2m8 0h2m8 0h2m2 0h2m4 0h2m6 0h2m73 0h2m38 0h2M152 526.5h2m2 0h2m4 0h1m4 0h4m2 0h2m8 0h2m8 0h2m2 0h2m4 0h2m6 0h2m73 0h2m38 0h2M150 527.5h2m4 0h2m5 0h2m2 0h2m16 0h2m4 0h4m50 0h2m20 0h2m23 0h2m2 0h4m14 0h2m4 0h2m24 0h2M150 528.5h2m4 0h2m5 0h2m2 0h2m16 0h2m4 0h4m50 0h2m20 0h2m23 0h2m2 0h4m14 0h2m4 0h2m24 0h2M158 529.5h2m2 0h1m4 0h8m8 0h2m4 0h4m10 0h2m20 0h4m6 0h2m4 0h2m2 0h2m10 0h2m14 0h2m41 0h2m20 0h2m12 0h2M158 530.5h2m2 0h1m4 0h8m8 0h2m4 0h4m10 0h2m20 0h4m6 0h2m4 0h2m2 0h2m10 0h2m14 0h2m41 0h2m20 0h2m12 0h2M167 531.5h2m2 0h2m2 0h4m2 0h4m2 0h4m4 0h4m2 0h2m2 0h4m6 0h2m6 0h4m6 0h2m20 0h4m6 0h2m18 0h1m4 0h2m18 0h2m2 0h2m4 0h2m8 0h2m2 0h2m2 0h4m2 0h2m20 0h2m2 0h2m18 0h4M167 532.5h2m2 0h2m2 0h4m2 0h4m2 0h4m4 0h4m2 0h2m2 0h4m6 0h2m6 0h4m6 0h2m20 0h4m6 0h2m18 0h1m4 0h2m18 0h2m2 0h2m4 0h2m8 0h2m2 0h2m2 0h4m2 0h2m20 0h2m2 0h2m18 0h4M160 533.5h3m10 0h2m4 0h10m2 0h2m4 0h4m6 0h2m4 0h2m2 0h8m4 0h4m4 0h2m2 0h2m2 0h4m4 0h2m6 0h2m2 0h2m2 0h2m4 0h2m15 0h2m10 0h2m6 0h2m6 0h10m4 0h2m2 0h2m28 0h4m6 0h4m6 0h2m2 0h4m8 0h2M171 534.5h2m10 0h6m4 0h8m2 0h6m6 0h10m10 0h2m6 0h4m4 0h2m4 0h4m10 0h2m4 0h6m2 0h1m4 0h6m2 0h4m2 0h2m4 0h2m2 0h2m4 0h2m6 0h2m2 0h2m2 0h2m8 0h2m4 0h4m10 0h2m22 0h4m4 0h2m4 0h2m9 0h2m14 0h2m44 0h2m57 0h2M171 535.5h2m10 0h6m4 0h8m2 0h6m6 0h10m10 0h2m6 0h4m4 0h2m4 0h4m10 0h2m4 0h6m2 0h1m4 0h6m2 0h4m2 0h2m4 0h2m2 0h2m4 0h2m6 0h2m2 0h2m2 0h2m8 0h2m4 0h4m10 0h2m22 0h4m4 0h2m4 0h2m9 0h2m14 0h2m44 0h2m57 0h2M177 536.5h2m16 0h2m2 0h4m2 0h2m2 0h2m4 0h4m4 0h4m2 0h2m4 0h4m2 0h2m4 0h2m2 0h4m4 0h6m2 0h4m2 0h2m2 0h4m4 0h1m8 0h2m2 0h2m4 0h8m4 0h8m4 0h4m6 0h6m4 0h2m4 0h4m4 0h2m2 0h2m2 0h4m4 0h2m2 0h2m2 0h2m2 0h2m2 0h2m2 0h4m8 0h3m8 0h2m4 0h2m10 0h2m12 0h2m79 0h2m12 0h2M177 537.5h2m16 0h2m2 0h4m2 0h2m2 0h2m4 0h4m4 0h4m2 0h2m4 0h4m2 0h2m4 0h2m2 0h4m4 0h6m2 0h4m2 0h2m2 0h4m4 0h1m8 0h2m2 0h2m4 0h8m4 0h8m4 0h4m6 0h6m4 0h2m4 0h4m4 0h2m2 0h2m2 0h4m4 0h2m2 0h2m2 0h2m2 0h2m2 0h2m2 0h4m8 0h3m8 0h2m4 0h2m10 0h2m12 0h2m79 0h2m12 0h2M217 538.5h2m4 0h4m6 0h2m4 0h4m4 0h2m6 0h2m2 0h2m18 0h2m2 0h3m8 0h16m10 0h2m4 0h8m4 0h2m2 0h6m2 0h2m2 0h4m2 0h6m2 0h4m6 0h4m6 0h6m16 0h3m6 0h2m2 0h2m2 0h4m2 0h2m6 0h2m8 0h2m4 0h2m8 0h4m2 0h6m2 0h2m42 0h2m21 0h2m24 0h2M217 539.5h2m4 0h4m6 0h2m4 0h4m4 0h2m6 0h2m2 0h2m18 0h2m2 0h3m8 0h16m10 0h2m4 0h8m4 0h2m2 0h6m2 0h2m2 0h4m2 0h6m2 0h4m6 0h4m6 0h6m16 0h3m6 0h2m2 0h2m2 0h4m2 0h2m6 0h2m8 0h2m4 0h2m8 0h4m2 0h6m2 0h2m42 0h2m21 0h2m24 0h2"/>
<path stroke="#0030ff" d="M100 272.5h2M100 273.5h2M104 300.5h2M104 301.5h2M100 306.5h2M100 307.5h2M100 321.5h2M100 322.5h2M104 325.5h2M104 326.5h2M102 338.5h2M102 339.5h2M100 347.5h2M100 348.5h2M100 372.5h2M100 381.5h4M100 382.5h4M102 386.5h2M102 387.5h2M235 413.5h2M235 414.5h2M100 431.5h2M100 432.5h2M100 437.5h2M100 438.5h2M100 439.5h2M100 440.5h2M197 441.5h2M197 442.5h2M100 443.5h2m85 0h2m2 0h2m6 0h2M100 444.5h2m85 0h2m2 0h2m6 0h2M100 445.5h2M191 446.5h2M191 447.5h2M187 448.5h2M187 449.5h2M185 450.5h4M185 451.5h4M100 452.5h4m79 0h2M100 453.5h4m79 0h2M146 458.5h2m27 0h2m6 0h2M146 459.5h2m27 0h2m6 0h2M102 460.5h2M100 461.5h2m77 0h2M100 462.5h2m77 0h2M102 463.5h2m58 0h1m10 0h4M102 464.5h2m58 0h1m10 0h4M173 465.5h2M173 466.5h2M102 467.5h2m61 0h2m4 0h2M102 468.5h2m61 0h2m4 0h2M102 469.5h2m65 0h4M102 470.5h2m65 0h4M162 471.5h1m2 0h2M162 472.5h1m2 0h2M102 473.5h2m56 0h2m5 0h2M146 474.5h2M146 475.5h2M102 476.5h2m56 0h2m1 0h4M102 477.5h2m56 0h2m1 0h4M104 478.5h2m40 0h2m12 0h2M104 479.5h2m40 0h2m12 0h2M154 480.5h2m6 0h1M154 481.5h2m6 0h1M104 482.5h2M104 483.5h2M104 484.5h2m42 0h4m17 0h2M104 485.5h2m42 0h4m17 0h2M146 486.5h2M146 487.5h2M104 488.5h4m44 0h2m8 0h1M128 489.5h2m28 0h2m27 0h2M128 490.5h2m28 0h2m27 0h2M156 491.5h2M156 492.5h2M106 493.5h2m20 0h4m8 0h2m12 0h2M106 494.5h2m20 0h4m8 0h2m12 0h2M138 495.5h2m6 0h2m10 0h2m2 0h1M138 496.5h2m6 0h2m10 0h2m2 0h1M108 497.5h2m20 0h2m4 0h2m8 0h2m2 0h2M108 498.5h2m20 0h2m4 0h2m8 0h2m2 0h2M128 499.5h2m16 0h2m2 0h2m2 0h2M128 500.5h2m16 0h2m2 0h2m2 0h2M110 501.5h2m2 0h2m10 0h4m10 0h6m10 0h2M110 502.5h2m2 0h2m10 0h4m10 0h6m10 0h2M108 503.5h2m30 0h2m2 0h2m6 0h2m2 0h2M126 504.5h4m8 0h4m4 0h6M126 505.5h4m8 0h4m4 0h6M116 506.5h2m6 0h2m14 0h4m2 0h6m8 0h2M116 507.5h2m6 0h2m14 0h4m2 0h6m8 0h2M108 508.5h2m4 0h2m22 0h2m2 0h4m2 0h2M108 509.5h2m4 0h2m22 0h2m2 0h4m2 0h2M108 510.5h2m2 0h2m4 0h2m2 0h2m16 0h4m4 0h4m10 0h1M108 511.5h2m2 0h2m4 0h2m2 0h2m16 0h4m4 0h4m10 0h1M110 512.5h2m2 0h8m14 0h2m4 0h4m4 0h2m11 0h2M110 513.5h2m2 0h8m14 0h2m4 0h4m4 0h2m11 0h2M110 514.5h4m34 0h2m2 0h4m13 0h2M110 515.5h4m34 0h2m2 0h4m13 0h2M112 516.5h4m26 0h2m6 0h2M112 517.5h4m26 0h2m6 0h2M110 518.5h2m36 0h6M138 519.5h2m8 0h2m6 0h2m2 0h2M138 520.5h2m8 0h2m6 0h2m2 0h2M146 521.5h2m31 0h2M146 522.5h2m31 0h2M146 523.5h2m4 0h2M146 524.5h2m4 0h2M150 525.5h2m2 0h2m2 0h4m1 0h4m8 0h2M150 526.5h2m2 0h2m2 0h4m1 0h4m8 0h2M146 527.5h2m6 0h2m6 0h1m50 0h2M146 528.5h2m6 0h2m6 0h1m50 0h2M152 529.5h2m2 0h2m2 0h2m1 0h2m10 0h6m12 0h2M152 530.5h2m2 0h2m2 0h2m1 0h2m10 0h6m12 0h2M158 531.5h2m2 0h5m36 0h2m119 0h2M158 532.5h2m2 0h5m36 0h2m119 0h2M163 533.5h2m2 0h2m2 0h2m2 0h4m10 0h2m4 0h2m80 0h2m23 0h2m38 0h2M173 534.5h8m10 0h2m8 0h2m8 0h2m52 0h2m45 0h2M173 535.5h8m10 0h2m8 0h2m8 0h2m52 0h2m45 0h2M187 536.5h2m2 0h4m2 0h2m4 0h2m16 0h2m8 0h2m6 0h2m2 0h2m20 0h2m4 0h2m2 0h2m6 0h2m1 0h2m2 0h4m2 0h2m2 0h2m10 0h2m12 0h2m8 0h2m20 0h4m42 0h2m17 0h2M187 537.5h2m2 0h4m2 0h2m4 0h2m16 0h2m8 0h2m6 0h2m2 0h2m20 0h2m4 0h2m2 0h2m6 0h2m1 0h2m2 0h4m2 0h2m2 0h2m10 0h2m12 0h2m8 0h2m20 0h4m42 0h2m17 0h2M195 538.5h4m4 0h2m8 0h2m4 0h4m4 0h2m6 0h4m4 0h4m6 0h2m2 0h2m4 0h2m2 0h2m6 0h4m7 0h8m16 0h2m2 0h6m2 0h4m8 0h4m2 0h2m16 0h2m6 0h2m8 0h2m6 0h4m6 0h2m4 0h2m11 0h2M195 539.5h4m4 0h2m8 0h2m4 0h4m4 0h2m6 0h4m4 0h4m6 0h2m2 0h2m4 0h2m2 0h2m6 0h4m7 0h8m16 0h2m2 0h6m2 0h4m8 0h4m2 0h2m16 0h2m6 0h2m8 0h2m6 0h4m6 0h2m4 0h2m11 0h2"/>
<path stroke="#005cff" d="M100 448.5h2M100 449.5h2M191 450.5h2M191 451.5h2M100 454.5h2M100 455.5h2M100 456.5h2M100 457.5h2M100 458.5h2M100 459.5h2M100 460.5h2M100 463.5h2M100 464.5h2M100 465.5h2M100 466.5h2M100 467.5h2m67 0h2M100 468.5h2m67 0h2M165 469.5h4M165 470.5h4M100 471.5h2m65 0h4M100 472.5h2m65 0h4M162 473.5h1m2 0h2M102 474.5h2m56 0h5m4 0h2M102 475.5h2m56 0h5m4 0h2M102 478.5h2m52 0h4m2 0h1M102 479.5h2m52 0h4m2 0h1M102 480.5h2m52 0h4M102 481.5h2m52 0h4M102 482.5h2m48 0h2m2 0h4M102 483.5h2m48 0h2m2 0h4M158 484.5h2m2 0h1M158 485.5h2m2 0h1M154 486.5h2M154 487.5h2M154 488.5h2m4 0h2M104 489.5h2m38 0h2m4 0h2M104 490.5h2m38 0h2m4 0h2M104 491.5h2m36 0h4m4 0h2m10 0h1M104 492.5h2m36 0h4m4 0h2m10 0h1M104 493.5h2m42 0h2M104 494.5h2m42 0h2M104 495.5h2M104 496.5h2M144 497.5h2M144 498.5h2M106 499.5h2m26 0h2m6 0h4m2 0h2M106 500.5h2m26 0h2m6 0h4m2 0h2M106 501.5h4m22 0h2m12 0h2M106 502.5h4m22 0h2m12 0h2M106 503.5h2m22 0h2m6 0h2m2 0h2m6 0h2M124 504.5h2m10 0h2m4 0h2M124 505.5h2m10 0h2m4 0h2M108 506.5h2m28 0h2m22 0h1M108 507.5h2m28 0h2m22 0h1M122 508.5h4m8 0h4m8 0h2m2 0h2m4 0h2m4 0h1M122 509.5h4m8 0h4m8 0h2m2 0h2m4 0h2m4 0h1M134 510.5h2m2 0h2m4 0h4M134 511.5h2m2 0h2m4 0h4M108 512.5h2m24 0h2m2 0h4m6 0h2M108 513.5h2m24 0h2m2 0h4m6 0h2M108 514.5h2m4 0h2m16 0h2m2 0h2m2 0h4m6 0h2M108 515.5h2m4 0h2m16 0h2m2 0h2m2 0h4m6 0h2M108 516.5h4m26 0h4m2 0h4m6 0h2M108 517.5h4m26 0h4m2 0h4m6 0h2M112 518.5h2m24 0h10M140 519.5h4m8 0h2M140 520.5h4m8 0h2M142 521.5h4m2 0h4M142 522.5h4m2 0h4M136 523.5h4m8 0h2m4 0h4m5 0h2M136 524.5h4m8 0h2m4 0h4m5 0h2M142 525.5h2m2 0h4m21 0h2M142 526.5h2m2 0h4m21 0h2M140 527.5h2m6 0h2m2 0h2M140 528.5h2m6 0h2m2 0h2M142 529.5h4m2 0h2M142 530.5h4m2 0h2M144 531.5h2m2 0h2m2 0h6m2 0h2M144 532.5h2m2 0h2m2 0h6m2 0h2M150 533.5h6m2 0h2m5 0h2m2 0h2M163 534.5h6m12 0h2m6 0h2M163 535.5h6m12 0h2m6 0h2M175 536.5h2m2 0h8m2 0h2m20 0h2m44 0h2m73 0h4m10 0h2M175 537.5h2m2 0h8m2 0h2m20 0h2m44 0h2m73 0h4m10 0h2M183 538.5h4m4 0h4m6 0h2m2 0h6m18 0h4m16 0h2m97 0h2M183 539.5h4m4 0h4m6 0h2m2 0h6m18 0h4m16 0h2m97 0h2"/>
<path stroke="#0088ff" d="M100 469.5h2M100 470.5h2M100 473.5h2m61 0h2M100 474.5h2M100 475.5h2M162 476.5h1M162 477.5h1M154 482.5h2M154 483.5h2M102 484.5h2m48 0h4M102 485.5h2m48 0h4M102 486.5h2m44 0h6M102 487.5h2m44 0h6M146 488.5h6M146 489.5h2M146 490.5h2M146 493.5h2M146 494.5h2M140 495.5h2m2 0h2M140 496.5h2m2 0h2M104 497.5h2m34 0h2M104 498.5h2m34 0h2M140 499.5h2M140 500.5h2M134 501.5h2m2 0h2M134 502.5h2m2 0h2M134 504.5h2M134 505.5h2M106 506.5h2m20 0h2M106 507.5h2m20 0h2M106 508.5h2m32 0h2M106 509.5h2m32 0h2M132 510.5h2m2 0h2M132 511.5h2m2 0h2M130 512.5h4M130 513.5h4M118 514.5h2m14 0h2m2 0h2m4 0h2M118 515.5h2m14 0h2m2 0h2m4 0h2M128 516.5h10M128 517.5h10M130 518.5h6M134 519.5h4m8 0h2M134 520.5h4m8 0h2M132 521.5h2m4 0h4M132 522.5h2m4 0h4M134 523.5h2m4 0h6M134 524.5h2m4 0h6M136 525.5h2m2 0h2m2 0h2M136 526.5h2m2 0h2m2 0h2M136 527.5h4m2 0h4M136 528.5h4m2 0h4M136 529.5h4m6 0h2m2 0h2M136 530.5h4m6 0h2m2 0h2M142 531.5h2m2 0h2m2 0h2M142 532.5h2m2 0h2m2 0h2M142 533.5h2m2 0h2M150 534.5h2m6 0h2m2 0h1m6 0h2M150 535.5h2m6 0h2m2 0h1m6 0h2M162 536.5h3m2 0h4m2 0h2M162 537.5h3m2 0h4m2 0h2M175 538.5h2m2 0h4m4 0h4m8 0h2m14 0h2M175 539.5h2m2 0h4m4 0h4m8 0h2m14 0h2"/>
<path stroke="#00b4ff" d="M100 478.5h2M100 479.5h2M102 488.5h2M102 489.5h2m44 0h2M102 490.5h2m44 0h2M102 491.5h2m44 0h2M102 492.5h2m44 0h2M102 493.5h2M102 494.5h2M142 495.5h2M142 496.5h2M142 497.5h2M142 498.5h2M136 499.5h4M136 500.5h4M104 501.5h2M104 502.5h2M132 503.5h2m2 0h2M106 504.5h2m22 0h2M106 505.5h2m22 0h2M134 506.5h2M134 507.5h2M126 508.5h2m4 0h2M126 509.5h2m4 0h2M106 510.5h2m16 0h2M106 511.5h2m16 0h2M122 512.5h2M122 513.5h2M130 514.5h2M130 515.5h2M116 516.5h2M116 517.5h2M128 518.5h2m6 0h2M110 519.5h4m12 0h8M110 520.5h4m12 0h8M128 521.5h2m4 0h4M128 522.5h2m4 0h4M126 523.5h2M126 524.5h2M132 525.5h4m2 0h2M132 526.5h4m2 0h2M126 527.5h2m4 0h4M126 528.5h2m4 0h4M140 529.5h2M140 530.5h2M140 531.5h2M140 532.5h2M140 533.5h2m2 0h2m2 0h2m6 0h2M152 534.5h6m2 0h2M152 535.5h6m2 0h2M158 536.5h4m3 0h2m4 0h2M158 537.5h4m3 0h2m4 0h2M177 538.5h2M177 539.5h2"/>
<path stroke="#00e4f8" d="M100 476.5h2M100 477.5h2M100 480.5h2M100 481.5h2M146 491.5h2M146 492.5h2M142 493.5h4M142 494.5h4M138 497.5h2M138 498.5h2M104 499.5h2M104 500.5h2M136 501.5h2M136 502.5h2M104 503.5h2m28 0h2M104 504.5h2M104 505.5h2M130 510.5h2M130 511.5h2M106 512.5h2M106 513.5h2M106 514.5h2m12 0h2m6 0h2M106 515.5h2m12 0h2m6 0h2M126 516.5h2M126 517.5h2M108 518.5h2m4 0h2m10 0h2M108 519.5h2M108 520.5h2M124 521.5h2m4 0h2M124 522.5h2m4 0h2M128 523.5h6M128 524.5h6M130 525.5h2M130 526.5h2M130 527.5h2M130 528.5h2M130 529.5h6M130 530.5h6M132 531.5h2m4 0h2M132 532.5h2m4 0h2M138 533.5h2M142 534.5h8M142 535.5h8M154 536.5h4M154 537.5h4M167 538.5h8M167 539.5h8"/>
<path stroke="#23ffd4" d="M100 482.5h2M100 483.5h2M100 484.5h2M100 485.5h2M100 486.5h2M100 487.5h2M102 495.5h2M102 496.5h2M102 497.5h2M102 498.5h2M102 499.5h2M102 500.5h2M132 504.5h2M132 505.5h2M104 506.5h2M104 507.5h2M104 508.5h2M104 509.5h2M106 516.5h2m10 0h2M106 517.5h2m10 0h2M106 518.5h2M124 519.5h2M124 520.5h2M108 521.5h6m12 0h2M108 522.5h6m12 0h2M122 523.5h4M122 524.5h4M122 525.5h8M122 526.5h8M128 527.5h2M128 528.5h2M124 529.5h2m2 0h2M124 530.5h2m2 0h2M126 531.5h2m2 0h2m2 0h4M126 532.5h2m2 0h2m2 0h4M134 533.5h4M140 534.5h2M140 535.5h2M148 536.5h2m2 0h2M148 537.5h2m2 0h2M160 538.5h2m1 0h4M160 539.5h2m1 0h4"/>
<path stroke="#46ffb1" d="M100 488.5h2M102 501.5h2M102 502.5h2M102 504.5h2M102 505.5h2M130 506.5h4M130 507.5h4M130 508.5h2M130 509.5h2M104 510.5h2M104 511.5h2M124 512.5h2m2 0h2M124 513.5h2m2 0h2M104 514.5h2M104 515.5h2M124 518.5h2M106 519.5h2m6 0h2M106 520.5h2m6 0h2M120 525.5h2M120 526.5h2M118 527.5h2m2 0h4M118 528.5h2m2 0h4M118 529.5h2m2 0h2m2 0h2M118 530.5h2m2 0h2m2 0h2M128 531.5h2M128 532.5h2M128 533.5h6M134 534.5h6M134 535.5h6M142 536.5h2m2 0h2m2 0h2M142 537.5h2m2 0h2m2 0h2M154 538.5h6m2 0h1M154 539.5h6m2 0h1"/>
<path stroke="#6aff8d" d="M100 489.5h2M100 490.5h2M100 491.5h2M100 492.5h2M100 493.5h2M100 494.5h2M100 495.5h2M100 496.5h2M102 503.5h2M102 506.5h2M102 507.5h2M128 508.5h2M128 509.5h2M126 510.5h4M126 511.5h4M104 512.5h2M104 513.5h2M122 514.5h2m2 0h2M122 515.5h2m2 0h2M106 521.5h2M106 522.5h2M118 525.5h2M118 526.5h2M120 527.5h2M120 528.5h2M120 529.5h2M120 530.5h2M122 531.5h4M122 532.5h4M122 533.5h6M128 534.5h6M128 535.5h6M136 536.5h6m2 0h2M136 537.5h6m2 0h2M148 538.5h6M148 539.5h6"/>
<path stroke="#8dff6a" d="M126 512.5h2M126 513.5h2M124 514.5h2M124 515.5h2M104 516.5h2m14 0h2m2 0h2M104 517.5h2m14 0h2m2 0h2M116 518.5h2M106 523.5h4m10 0h2M106 524.5h4m10 0h2M116 527.5h2M116 528.5h2M116 529.5h2M116 530.5h2M118 531.5h4M118 532.5h4M120 533.5h2M124 534.5h4M124 535.5h4M132 536.5h4M132 537.5h4M142 538.5h6M142 539.5h6"/>
<path stroke="#b1ff46" d="M100 497.5h2M100 498.5h2M100 499.5h2M100 500.5h2M100 501.5h2M100 502.5h2M102 508.5h2M102 509.5h2M102 510.5h2M102 511.5h2M102 512.5h2M102 513.5h2M122 516.5h2M122 517.5h2M104 518.5h2M104 519.5h2M104 520.5h2M104 521.5h2m16 0h2M104 522.5h2m16 0h2M110 523.5h2M110 524.5h2M116 531.5h2M116 532.5h2M118 533.5h2M120 534.5h4M120 535.5h4M126 536.5h6M126 537.5h6M138 538.5h4M138 539.5h4"/>
<path stroke="#d4ff23" d="M100 503.5h2M100 504.5h2M100 505.5h2M122 518.5h2M114 521.5h2M114 522.5h2M118 523.5h2M118 524.5h2M116 525.5h2M116 526.5h2M114 531.5h2M114 532.5h2M116 533.5h2M118 534.5h2M118 535.5h2M122 536.5h4M122 537.5h4M132 538.5h6M132 539.5h6"/>
<path stroke="#f8f500" d="M100 506.5h2M100 507.5h2M102 514.5h2M102 515.5h2M102 516.5h2M102 517.5h2M102 518.5h2M116 519.5h2m4 0h2M116 520.5h2m4 0h2M104 523.5h2m6 0h2M104 524.5h2m6 0h2M106 525.5h2M106 526.5h2M114 533.5h2M116 534.5h2M116 535.5h2M118 536.5h4M118 537.5h4M126 538.5h6M126 539.5h6"/>
<path stroke="#ffc800" d="M100 508.5h2M100 509.5h2M100 510.5h2M100 511.5h2M118 518.5h4M102 519.5h2M102 520.5h2M120 521.5h2M120 522.5h2M104 525.5h2M104 526.5h2M114 529.5h2M114 530.5h2M114 534.5h2M114 535.5h2M116 536.5h2M116 537.5h2M122 538.5h4M122 539.5h4"/>
<path stroke="#ff9f00" d="M100 512.5h2M100 513.5h2M100 514.5h2M100 515.5h2M102 521.5h2m12 0h2M102 522.5h2m12 0h2M114 523.5h4M114 524.5h4M108 525.5h2M108 526.5h2M106 527.5h2m6 0h2M106 528.5h2m6 0h2M112 531.5h2M112 532.5h2M112 533.5h2M112 534.5h2M112 535.5h2M114 536.5h2M114 537.5h2M118 538.5h4M118 539.5h4"/>
<path stroke="#ff7700" d="M100 516.5h2M100 517.5h2M100 518.5h2M120 519.5h2M120 520.5h2M118 521.5h2M118 522.5h2M102 523.5h2M102 524.5h2M114 525.5h2M114 526.5h2M104 527.5h2M104 528.5h2M116 538.5h2M116 539.5h2"/>
<path stroke="#ff4e00" d="M100 519.5h2m16 0h2M100 520.5h2m16 0h2M102 525.5h2m6 0h4M102 526.5h2m6 0h4M106 529.5h2M106 530.5h2M110 533.5h2M110 534.5h2M110 535.5h2M112 536.5h2M112 537.5h2M114 538.5h2M114 539.5h2"/>
<path stroke="#ff2500" d="M100 521.5h2M100 522.5h2M102 527.5h2m4 0h2M102 528.5h2m4 0h2M104 529.5h2m6 0h2M104 530.5h2m6 0h2M110 531.5h2M110 532.5h2M110 536.5h2M110 537.5h2M112 538.5h2M112 539.5h2"/>
<path stroke="#e40000" d="M100 523.5h2M100 524.5h2M112 527.5h2M112 528.5h2M102 529.5h2m4 0h2M102 530.5h2m4 0h2M106 531.5h4M106 532.5h4M108 533.5h2M108 534.5h2M108 535.5h2M110 538.5h2M110 539.5h2"/>
<path stroke="#b20000" d="M100 525.5h2M100 526.5h2M100 527.5h2m8 0h2M100 528.5h2m8 0h2M110 529.5h2M110 530.5h2M104 531.5h2M104 532.5h2M106 533.5h2M108 536.5h2M108 537.5h2"/>
<path stroke="#800000" d="M100 529.5h2M100 530.5h2M100 531.5h4M100 532.5h4M100 533.5h6M100 534.5h8M100 535.5h8M100 536.5h8M100 537.5h8M100 538.5h10M100 539.5h10"/></g>
<g stroke="#000" stroke-width="1" fill="none">
<rect x="100.5" y="72.5" width="496" height="468"/>
<path d="M199.5 540V534M298.5 540V534M398.5 540V534M497.5 540V534M199.5 73V79M298.5 73V79M398.5 73V79M497.5 73V79M101 446.5H107M101 353.5H107M101 259.5H107M101 166.5H107M596 446.5H590M596 353.5H590M596 259.5H590M596 166.5H590"/>
</g>
<rect x="627.5" y="72.5" width="23" height="468" fill="url(#jet)" stroke="#000" stroke-width="1"/>
<path d="M650 228.5H644M650 384.5H644" stroke="#000" stroke-width="1"/>
<g font-size="17">
<text x="83.5" y="24.2" textLength="633" lengthAdjust="spacingAndGlyphs">1665 day SEP cross plot data derived from 22110606 accumulated seconds</text>
<text x="306" y="41.7" textLength="215.5" lengthAdjust="spacingAndGlyphs">from 2009-06-26 DOY:177</text>
<text x="280" y="59.6" textLength="242" lengthAdjust="spacingAndGlyphs">through 2014-01-15 DOY:015</text>
<text x="94" y="546" text-anchor="end" textLength="10.6" lengthAdjust="spacingAndGlyphs">0</text>
<text x="94" y="452.4" text-anchor="end" textLength="31.8" lengthAdjust="spacingAndGlyphs">100</text>
<text x="94" y="358.8" text-anchor="end" textLength="31.8" lengthAdjust="spacingAndGlyphs">200</text>
<text x="94" y="265.2" text-anchor="end" textLength="31.8" lengthAdjust="spacingAndGlyphs">300</text>
<text x="94" y="171.6" text-anchor="end" textLength="31.8" lengthAdjust="spacingAndGlyphs">400</text>
<text x="94" y="78" text-anchor="end" textLength="31.8" lengthAdjust="spacingAndGlyphs">500</text>
<text x="100" y="557" text-anchor="middle" textLength="10.6" lengthAdjust="spacingAndGlyphs">0</text>
<text x="199.2" y="557" text-anchor="middle" textLength="31.8" lengthAdjust="spacingAndGlyphs">100</text>
<text x="298.4" y="557" text-anchor="middle" textLength="31.8" lengthAdjust="spacingAndGlyphs">200</text>
<text x="397.6" y="557" text-anchor="middle" textLength="31.8" lengthAdjust="spacingAndGlyphs">300</text>
<text x="496.8" y="557" text-anchor="middle" textLength="31.8" lengthAdjust="spacingAndGlyphs">400</text>
<text x="596" y="557" text-anchor="middle" textLength="31.8" lengthAdjust="spacingAndGlyphs">500</text>
<text x="241" y="575.4" textLength="215" lengthAdjust="spacingAndGlyphs">LET in D1&amp;2 (keV/micron)</text>
<text transform="translate(54 412) rotate(-90)" textLength="213" lengthAdjust="spacingAndGlyphs">LET in D3&amp;4 (keV/micron)</text>
<text x="654.5" y="546" textLength="10.6" lengthAdjust="spacingAndGlyphs">1</text>
<text x="654.5" y="390" textLength="21.2" lengthAdjust="spacingAndGlyphs">10</text>
<text x="654.5" y="234" textLength="31.8" lengthAdjust="spacingAndGlyphs">100</text>
<text x="654.5" y="78" textLength="42.4" lengthAdjust="spacingAndGlyphs">1000</text>
<text transform="translate(712.7 333.6) rotate(-90)" textLength="55" lengthAdjust="spacingAndGlyphs">Counts</text>
</g>
</svg>
</body></html>
